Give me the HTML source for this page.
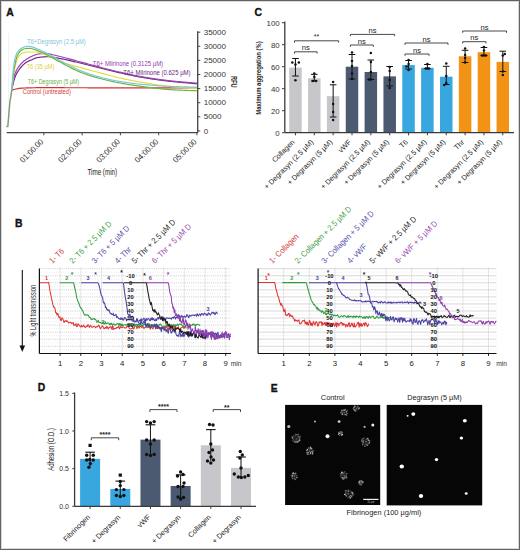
<!DOCTYPE html>
<html><head><meta charset="utf-8"><style>
html,body{margin:0;padding:0;background:#fff;}
svg{display:block;font-family:"Liberation Sans", sans-serif;}
</style></head><body>
<svg width="520" height="550" viewBox="0 0 520 550">
<rect x="0" y="0" width="520" height="550" fill="#fff"/>
<text x="6.20" y="15.60" font-size="10.4" fill="#111" font-weight="bold" stroke="#111" stroke-width="0.35">A</text>
<line x1="8.70" y1="33.00" x2="8.70" y2="126.00" stroke="#e6edf3" stroke-width="0.8"/>
<path d="M11.80,90.20 L12.65,89.89 L13.50,89.60 L14.75,89.27 L16.00,89.00 L17.00,88.81 L18.00,88.62 L19.00,88.44 L20.00,88.29 L21.00,88.17 L22.00,88.10 L23.00,88.06 L24.00,88.02 L25.00,87.98 L26.00,87.94 L27.00,87.91 L28.00,87.88 L29.00,87.85 L30.00,87.82 L31.00,87.80 L32.00,87.78 L33.00,87.76 L34.00,87.74 L35.00,87.73 L36.00,87.72 L37.00,87.71 L38.00,87.70 L39.00,87.70 L40.00,87.70 L41.00,87.70 L42.00,87.70 L43.00,87.70 L44.00,87.70 L45.00,87.70 L46.00,87.70 L47.00,87.70 L48.00,87.70 L49.00,87.70 L50.00,87.70 L51.00,87.71 L52.00,87.71 L53.00,87.71 L54.00,87.71 L55.00,87.71 L56.00,87.71 L57.00,87.71 L58.00,87.71 L59.00,87.72 L60.00,87.72 L61.00,87.72 L62.00,87.72 L63.00,87.72 L64.00,87.72 L65.00,87.73 L66.00,87.73 L67.00,87.73 L68.00,87.73 L69.00,87.73 L70.00,87.74 L71.00,87.74 L72.00,87.74 L73.00,87.74 L74.00,87.74 L75.00,87.75 L76.00,87.75 L77.00,87.75 L78.00,87.75 L79.00,87.76 L80.00,87.76 L81.00,87.76 L82.00,87.76 L83.00,87.76 L84.00,87.77 L85.00,87.77 L86.00,87.77 L87.00,87.77 L88.00,87.78 L89.00,87.78 L90.00,87.78 L91.00,87.78 L92.00,87.78 L93.00,87.79 L94.00,87.79 L95.00,87.79 L96.00,87.79 L97.00,87.79 L98.00,87.80 L99.00,87.80 L100.00,87.80 L101.00,87.80 L102.00,87.80 L103.00,87.81 L104.00,87.81 L105.00,87.81 L106.00,87.81 L107.00,87.81 L108.00,87.81 L109.00,87.82 L110.00,87.82 L111.00,87.82 L112.00,87.82 L113.00,87.82 L114.00,87.83 L115.00,87.83 L116.00,87.83 L117.00,87.83 L118.00,87.83 L119.00,87.84 L120.00,87.84 L121.00,87.84 L122.00,87.84 L123.00,87.84 L124.00,87.85 L125.00,87.85 L126.00,87.85 L127.00,87.85 L128.00,87.85 L129.00,87.86 L130.00,87.86 L131.00,87.86 L132.00,87.86 L133.00,87.86 L134.00,87.87 L135.00,87.87 L136.00,87.87 L137.00,87.87 L138.00,87.88 L139.00,87.88 L140.00,87.88 L141.00,87.88 L142.00,87.88 L143.00,87.89 L144.00,87.89 L145.00,87.89 L146.00,87.89 L147.00,87.89 L148.00,87.90 L149.00,87.90 L150.00,87.90 L151.00,87.90 L152.00,87.90 L153.00,87.91 L154.00,87.91 L155.00,87.91 L156.00,87.91 L157.00,87.92 L158.00,87.92 L159.00,87.92 L160.00,87.92 L161.00,87.92 L162.00,87.93 L163.00,87.93 L164.00,87.93 L165.00,87.93 L166.00,87.93 L167.00,87.94 L168.00,87.94 L169.00,87.94 L170.00,87.94 L171.00,87.95 L172.00,87.95 L173.00,87.95 L174.00,87.95 L175.00,87.95 L176.00,87.96 L177.00,87.96 L178.00,87.96 L179.00,87.96 L180.00,87.96 L181.00,87.97 L182.00,87.97 L183.00,87.97 L184.00,87.97 L185.00,87.97 L186.00,87.98 L187.00,87.98 L188.00,87.98 L189.00,87.98 L190.00,87.99 L191.00,87.99 L192.00,87.99 L193.00,87.99 L194.00,87.99 L195.00,88.00 L196.00,88.00 L197.00,88.00" fill="none" stroke="#cf3434" stroke-width="1.2" stroke-linejoin="round"/>
<path d="M11.80,90.20 L12.65,85.87 L13.50,82.00 L14.50,78.65 L15.50,76.00 L16.50,73.87 L17.50,72.07 L18.50,70.50 L19.67,68.89 L20.83,67.48 L22.00,66.20 L23.00,65.15 L24.00,64.14 L25.00,63.24 L26.00,62.50 L27.18,61.80 L28.36,61.20 L29.54,60.67 L30.72,60.18 L31.90,59.70 L32.92,59.27 L33.93,58.82 L34.95,58.39 L35.97,58.01 L36.98,57.70 L38.00,57.50 L39.00,57.37 L40.00,57.24 L41.00,57.12 L42.00,57.02 L43.00,56.93 L44.00,56.85 L45.00,56.79 L46.00,56.74 L47.00,56.71 L48.00,56.70 L49.00,56.72 L50.00,56.78 L51.00,56.88 L52.00,57.01 L53.00,57.16 L54.00,57.33 L55.00,57.52 L56.00,57.72 L57.00,57.92 L58.00,58.12 L59.00,58.32 L60.00,58.50 L61.00,58.68 L62.00,58.87 L63.00,59.07 L64.00,59.27 L65.00,59.48 L66.00,59.69 L67.00,59.91 L68.00,60.14 L69.00,60.37 L70.00,60.60 L71.00,60.84 L72.00,61.07 L73.00,61.31 L74.00,61.55 L75.00,61.80 L76.00,62.04 L77.00,62.28 L78.00,62.52 L79.00,62.76 L80.00,63.00 L81.00,63.24 L82.00,63.48 L83.00,63.72 L84.00,63.97 L85.00,64.22 L86.00,64.47 L87.00,64.72 L88.00,64.97 L89.00,65.23 L90.00,65.48 L91.00,65.73 L92.00,65.99 L93.00,66.24 L94.00,66.50 L95.00,66.75 L96.00,67.00 L97.00,67.26 L98.00,67.51 L99.00,67.75 L100.00,68.00 L101.00,68.25 L102.00,68.49 L103.00,68.74 L104.00,68.98 L105.00,69.23 L106.00,69.47 L107.00,69.72 L108.00,69.96 L109.00,70.21 L110.00,70.45 L111.00,70.69 L112.00,70.94 L113.00,71.18 L114.00,71.41 L115.00,71.65 L116.00,71.88 L117.00,72.12 L118.00,72.35 L119.00,72.57 L120.00,72.80 L121.00,73.02 L122.00,73.25 L123.00,73.47 L124.00,73.70 L125.00,73.92 L126.00,74.15 L127.00,74.37 L128.00,74.59 L129.00,74.81 L130.00,75.03 L131.00,75.24 L132.00,75.45 L133.00,75.66 L134.00,75.87 L135.00,76.07 L136.00,76.26 L137.00,76.46 L138.00,76.64 L139.00,76.82 L140.00,77.00 L141.00,77.17 L142.00,77.34 L143.00,77.51 L144.00,77.68 L145.00,77.84 L146.00,78.00 L147.00,78.16 L148.00,78.32 L149.00,78.48 L150.00,78.63 L151.00,78.79 L152.00,78.94 L153.00,79.09 L154.00,79.23 L155.00,79.38 L156.00,79.52 L157.00,79.66 L158.00,79.80 L159.00,79.94 L160.00,80.07 L161.00,80.20 L162.00,80.33 L163.00,80.46 L164.00,80.59 L165.00,80.71 L166.00,80.83 L167.00,80.95 L168.00,81.07 L169.00,81.19 L170.00,81.30 L171.00,81.41 L172.00,81.52 L173.00,81.62 L174.00,81.73 L175.00,81.83 L176.00,81.93 L177.00,82.02 L178.00,82.12 L179.00,82.21 L180.00,82.30 L181.00,82.39 L182.00,82.48 L183.00,82.57 L184.00,82.66 L185.00,82.75 L186.00,82.83 L187.00,82.92 L188.00,83.01 L189.00,83.09 L190.00,83.18 L191.00,83.26 L192.00,83.35 L193.00,83.44 L194.00,83.53 L195.00,83.62 L196.00,83.71 L197.00,83.80" fill="none" stroke="#6b2a86" stroke-width="1.2" stroke-linejoin="round"/>
<path d="M11.80,90.20 L12.50,85.04 L13.20,80.50 L13.95,77.02 L14.70,74.40 L16.10,71.02 L17.50,68.50 L18.95,66.37 L20.40,64.60 L21.60,63.26 L22.80,62.05 L24.00,61.00 L25.15,60.13 L26.30,59.35 L27.45,58.65 L28.60,58.00 L29.70,57.40 L30.80,56.80 L31.90,56.22 L33.00,55.68 L34.10,55.21 L35.20,54.81 L36.30,54.50 L37.44,54.24 L38.58,54.00 L39.72,53.79 L40.86,53.65 L42.00,53.60 L43.00,53.61 L44.00,53.64 L45.00,53.69 L46.00,53.75 L47.00,53.83 L48.00,53.90 L49.00,54.00 L50.00,54.13 L51.00,54.30 L52.00,54.50 L53.00,54.72 L54.00,54.96 L55.00,55.21 L56.00,55.47 L57.00,55.74 L58.00,56.00 L59.00,56.26 L60.00,56.50 L61.00,56.74 L62.00,56.98 L63.00,57.23 L64.00,57.49 L65.00,57.74 L66.00,58.00 L67.00,58.27 L68.00,58.53 L69.00,58.80 L70.00,59.07 L71.00,59.34 L72.00,59.62 L73.00,59.89 L74.00,60.17 L75.00,60.44 L76.00,60.72 L77.00,60.99 L78.00,61.26 L79.00,61.53 L80.00,61.80 L81.00,62.07 L82.00,62.34 L83.00,62.61 L84.00,62.88 L85.00,63.15 L86.00,63.43 L87.00,63.70 L88.00,63.97 L89.00,64.25 L90.00,64.52 L91.00,64.79 L92.00,65.07 L93.00,65.34 L94.00,65.61 L95.00,65.88 L96.00,66.14 L97.00,66.41 L98.00,66.68 L99.00,66.94 L100.00,67.20 L101.00,67.46 L102.00,67.72 L103.00,67.98 L104.00,68.24 L105.00,68.50 L106.00,68.76 L107.00,69.01 L108.00,69.27 L109.00,69.52 L110.00,69.78 L111.00,70.03 L112.00,70.28 L113.00,70.53 L114.00,70.78 L115.00,71.02 L116.00,71.26 L117.00,71.50 L118.00,71.74 L119.00,71.97 L120.00,72.20 L121.00,72.43 L122.00,72.66 L123.00,72.88 L124.00,73.11 L125.00,73.33 L126.00,73.56 L127.00,73.78 L128.00,74.00 L129.00,74.22 L130.00,74.43 L131.00,74.65 L132.00,74.86 L133.00,75.06 L134.00,75.27 L135.00,75.47 L136.00,75.66 L137.00,75.85 L138.00,76.04 L139.00,76.22 L140.00,76.40 L141.00,76.57 L142.00,76.75 L143.00,76.92 L144.00,77.09 L145.00,77.26 L146.00,77.42 L147.00,77.59 L148.00,77.75 L149.00,77.91 L150.00,78.07 L151.00,78.23 L152.00,78.39 L153.00,78.54 L154.00,78.69 L155.00,78.84 L156.00,78.99 L157.00,79.14 L158.00,79.28 L159.00,79.42 L160.00,79.56 L161.00,79.69 L162.00,79.83 L163.00,79.96 L164.00,80.09 L165.00,80.21 L166.00,80.34 L167.00,80.46 L168.00,80.57 L169.00,80.69 L170.00,80.80 L171.00,80.91 L172.00,81.01 L173.00,81.12 L174.00,81.22 L175.00,81.32 L176.00,81.41 L177.00,81.50 L178.00,81.60 L179.00,81.69 L180.00,81.77 L181.00,81.86 L182.00,81.95 L183.00,82.03 L184.00,82.11 L185.00,82.20 L186.00,82.28 L187.00,82.36 L188.00,82.44 L189.00,82.52 L190.00,82.61 L191.00,82.69 L192.00,82.77 L193.00,82.86 L194.00,82.94 L195.00,83.03 L196.00,83.11 L197.00,83.20" fill="none" stroke="#9a44b0" stroke-width="1.2" stroke-linejoin="round"/>
<path d="M11.80,90.20 L12.80,80.94 L13.80,73.00 L14.90,67.25 L16.00,63.00 L17.40,58.76 L18.80,56.00 L19.85,54.91 L20.90,54.06 L21.95,53.43 L23.00,53.00 L24.00,52.69 L25.00,52.42 L26.00,52.20 L27.00,52.05 L28.00,52.00 L29.00,52.00 L30.00,52.00 L31.00,52.00 L32.00,52.00 L33.00,52.00 L34.00,52.00 L35.00,52.00 L36.00,52.00 L37.00,52.05 L38.00,52.19 L39.00,52.41 L40.00,52.69 L41.00,53.04 L42.00,53.42 L43.00,53.84 L44.00,54.28 L45.00,54.72 L46.00,55.17 L47.00,55.60 L48.00,56.00 L49.00,56.40 L50.00,56.84 L51.00,57.30 L52.00,57.78 L53.00,58.28 L54.00,58.78 L55.00,59.27 L56.00,59.76 L57.00,60.23 L58.00,60.69 L59.00,61.11 L60.00,61.50 L61.00,61.86 L62.00,62.22 L63.00,62.56 L64.00,62.89 L65.00,63.21 L66.00,63.53 L67.00,63.83 L68.00,64.13 L69.00,64.43 L70.00,64.72 L71.00,65.00 L72.00,65.29 L73.00,65.56 L74.00,65.84 L75.00,66.12 L76.00,66.39 L77.00,66.67 L78.00,66.94 L79.00,67.22 L80.00,67.50 L81.00,67.78 L82.00,68.06 L83.00,68.33 L84.00,68.60 L85.00,68.87 L86.00,69.14 L87.00,69.41 L88.00,69.67 L89.00,69.94 L90.00,70.20 L91.00,70.46 L92.00,70.72 L93.00,70.98 L94.00,71.24 L95.00,71.50 L96.00,71.76 L97.00,72.02 L98.00,72.28 L99.00,72.54 L100.00,72.80 L101.00,73.06 L102.00,73.33 L103.00,73.60 L104.00,73.87 L105.00,74.14 L106.00,74.41 L107.00,74.68 L108.00,74.95 L109.00,75.22 L110.00,75.49 L111.00,75.76 L112.00,76.02 L113.00,76.28 L114.00,76.54 L115.00,76.80 L116.00,77.05 L117.00,77.29 L118.00,77.54 L119.00,77.77 L120.00,78.00 L121.00,78.22 L122.00,78.45 L123.00,78.67 L124.00,78.88 L125.00,79.10 L126.00,79.31 L127.00,79.52 L128.00,79.73 L129.00,79.93 L130.00,80.13 L131.00,80.33 L132.00,80.53 L133.00,80.72 L134.00,80.91 L135.00,81.10 L136.00,81.29 L137.00,81.47 L138.00,81.65 L139.00,81.83 L140.00,82.00 L141.00,82.17 L142.00,82.35 L143.00,82.52 L144.00,82.69 L145.00,82.86 L146.00,83.03 L147.00,83.21 L148.00,83.37 L149.00,83.54 L150.00,83.71 L151.00,83.87 L152.00,84.04 L153.00,84.20 L154.00,84.36 L155.00,84.52 L156.00,84.67 L157.00,84.82 L158.00,84.97 L159.00,85.12 L160.00,85.27 L161.00,85.41 L162.00,85.54 L163.00,85.68 L164.00,85.81 L165.00,85.93 L166.00,86.06 L167.00,86.17 L168.00,86.29 L169.00,86.40 L170.00,86.50 L171.00,86.60 L172.00,86.70 L173.00,86.79 L174.00,86.88 L175.00,86.97 L176.00,87.05 L177.00,87.14 L178.00,87.22 L179.00,87.30 L180.00,87.37 L181.00,87.45 L182.00,87.52 L183.00,87.60 L184.00,87.67 L185.00,87.74 L186.00,87.81 L187.00,87.88 L188.00,87.95 L189.00,88.02 L190.00,88.09 L191.00,88.16 L192.00,88.23 L193.00,88.30 L194.00,88.37 L195.00,88.45 L196.00,88.52 L197.00,88.60" fill="none" stroke="#e6dd3c" stroke-width="1.2" stroke-linejoin="round"/>
<path d="M11.80,90.20 L12.40,83.20 L13.00,77.00 L14.00,69.61 L15.00,64.00 L16.00,59.59 L17.00,56.40 L18.00,54.30 L19.00,52.68 L20.00,51.50 L21.23,50.39 L22.47,49.51 L23.70,49.00 L24.72,48.77 L25.74,48.58 L26.76,48.43 L27.78,48.33 L28.80,48.30 L29.85,48.37 L30.90,48.53 L31.95,48.76 L33.00,49.00 L34.12,49.30 L35.25,49.66 L36.38,50.08 L37.50,50.50 L38.50,50.88 L39.50,51.29 L40.50,51.71 L41.50,52.14 L42.50,52.59 L43.50,53.05 L44.50,53.52 L45.50,54.00 L46.54,54.51 L47.57,55.04 L48.61,55.60 L49.64,56.16 L50.68,56.74 L51.71,57.33 L52.75,57.92 L53.79,58.52 L54.82,59.12 L55.86,59.71 L56.89,60.30 L57.93,60.88 L58.96,61.45 L60.00,62.00 L61.00,62.53 L62.00,63.06 L63.00,63.60 L64.00,64.13 L65.00,64.67 L66.00,65.21 L67.00,65.75 L68.00,66.28 L69.00,66.81 L70.00,67.33 L71.00,67.85 L72.00,68.36 L73.00,68.86 L74.00,69.34 L75.00,69.82 L76.00,70.29 L77.00,70.74 L78.00,71.18 L79.00,71.60 L80.00,72.00 L81.00,72.39 L82.00,72.77 L83.00,73.15 L84.00,73.51 L85.00,73.87 L86.00,74.23 L87.00,74.57 L88.00,74.91 L89.00,75.24 L90.00,75.57 L91.00,75.89 L92.00,76.20 L93.00,76.51 L94.00,76.81 L95.00,77.11 L96.00,77.40 L97.00,77.68 L98.00,77.96 L99.00,78.23 L100.00,78.50 L101.00,78.76 L102.00,79.02 L103.00,79.28 L104.00,79.53 L105.00,79.78 L106.00,80.02 L107.00,80.26 L108.00,80.49 L109.00,80.72 L110.00,80.95 L111.00,81.17 L112.00,81.39 L113.00,81.60 L114.00,81.81 L115.00,82.02 L116.00,82.22 L117.00,82.42 L118.00,82.62 L119.00,82.81 L120.00,83.00 L121.00,83.19 L122.00,83.37 L123.00,83.55 L124.00,83.73 L125.00,83.90 L126.00,84.07 L127.00,84.24 L128.00,84.41 L129.00,84.57 L130.00,84.73 L131.00,84.89 L132.00,85.05 L133.00,85.20 L134.00,85.35 L135.00,85.50 L136.00,85.64 L137.00,85.79 L138.00,85.93 L139.00,86.06 L140.00,86.20 L141.00,86.33 L142.00,86.47 L143.00,86.60 L144.00,86.74 L145.00,86.87 L146.00,87.01 L147.00,87.14 L148.00,87.27 L149.00,87.41 L150.00,87.54 L151.00,87.67 L152.00,87.79 L153.00,87.92 L154.00,88.04 L155.00,88.17 L156.00,88.29 L157.00,88.40 L158.00,88.52 L159.00,88.63 L160.00,88.74 L161.00,88.84 L162.00,88.94 L163.00,89.04 L164.00,89.13 L165.00,89.22 L166.00,89.31 L167.00,89.39 L168.00,89.46 L169.00,89.53 L170.00,89.60 L171.00,89.66 L172.00,89.72 L173.00,89.78 L174.00,89.83 L175.00,89.89 L176.00,89.94 L177.00,89.98 L178.00,90.03 L179.00,90.08 L180.00,90.12 L181.00,90.16 L182.00,90.20 L183.00,90.24 L184.00,90.28 L185.00,90.32 L186.00,90.36 L187.00,90.40 L188.00,90.44 L189.00,90.48 L190.00,90.51 L191.00,90.55 L192.00,90.59 L193.00,90.63 L194.00,90.67 L195.00,90.71 L196.00,90.76 L197.00,90.80" fill="none" stroke="#68b846" stroke-width="1.2" stroke-linejoin="round"/>
<path d="M11.80,90.20 L12.20,83.86 L12.60,78.00 L13.05,72.44 L13.50,68.00 L14.50,60.96 L15.50,56.40 L16.75,53.44 L18.00,51.50 L19.20,50.06 L20.40,49.00 L21.60,48.17 L22.80,47.49 L24.00,47.00 L25.17,46.62 L26.33,46.32 L27.50,46.20 L28.62,46.25 L29.75,46.39 L30.88,46.58 L32.00,46.80 L33.10,47.09 L34.20,47.51 L35.30,48.00 L36.40,48.51 L37.50,49.00 L38.50,49.42 L39.50,49.85 L40.50,50.29 L41.50,50.73 L42.50,51.19 L43.50,51.65 L44.50,52.12 L45.50,52.60 L46.54,53.12 L47.57,53.65 L48.61,54.20 L49.64,54.76 L50.68,55.33 L51.71,55.90 L52.75,56.49 L53.79,57.07 L54.82,57.66 L55.86,58.24 L56.89,58.82 L57.93,59.39 L58.96,59.95 L60.00,60.50 L61.00,61.03 L62.00,61.55 L63.00,62.09 L64.00,62.62 L65.00,63.16 L66.00,63.69 L67.00,64.22 L68.00,64.75 L69.00,65.28 L70.00,65.80 L71.00,66.32 L72.00,66.83 L73.00,67.33 L74.00,67.82 L75.00,68.30 L76.00,68.77 L77.00,69.22 L78.00,69.66 L79.00,70.09 L80.00,70.50 L81.00,70.90 L82.00,71.29 L83.00,71.68 L84.00,72.06 L85.00,72.43 L86.00,72.80 L87.00,73.16 L88.00,73.51 L89.00,73.86 L90.00,74.20 L91.00,74.53 L92.00,74.86 L93.00,75.18 L94.00,75.49 L95.00,75.79 L96.00,76.09 L97.00,76.38 L98.00,76.66 L99.00,76.93 L100.00,77.20 L101.00,77.46 L102.00,77.71 L103.00,77.97 L104.00,78.21 L105.00,78.45 L106.00,78.69 L107.00,78.92 L108.00,79.15 L109.00,79.37 L110.00,79.59 L111.00,79.80 L112.00,80.01 L113.00,80.22 L114.00,80.41 L115.00,80.61 L116.00,80.80 L117.00,80.98 L118.00,81.16 L119.00,81.33 L120.00,81.50 L121.00,81.66 L122.00,81.83 L123.00,81.99 L124.00,82.14 L125.00,82.30 L126.00,82.45 L127.00,82.60 L128.00,82.74 L129.00,82.88 L130.00,83.02 L131.00,83.16 L132.00,83.29 L133.00,83.42 L134.00,83.54 L135.00,83.66 L136.00,83.78 L137.00,83.89 L138.00,84.00 L139.00,84.10 L140.00,84.20 L141.00,84.30 L142.00,84.39 L143.00,84.49 L144.00,84.58 L145.00,84.67 L146.00,84.76 L147.00,84.85 L148.00,84.94 L149.00,85.02 L150.00,85.11 L151.00,85.19 L152.00,85.27 L153.00,85.35 L154.00,85.43 L155.00,85.51 L156.00,85.58 L157.00,85.65 L158.00,85.72 L159.00,85.79 L160.00,85.86 L161.00,85.92 L162.00,85.99 L163.00,86.05 L164.00,86.10 L165.00,86.16 L166.00,86.21 L167.00,86.26 L168.00,86.31 L169.00,86.36 L170.00,86.40 L171.00,86.44 L172.00,86.48 L173.00,86.52 L174.00,86.55 L175.00,86.59 L176.00,86.62 L177.00,86.65 L178.00,86.69 L179.00,86.72 L180.00,86.74 L181.00,86.77 L182.00,86.80 L183.00,86.83 L184.00,86.85 L185.00,86.88 L186.00,86.91 L187.00,86.93 L188.00,86.96 L189.00,86.98 L190.00,87.01 L191.00,87.03 L192.00,87.06 L193.00,87.09 L194.00,87.11 L195.00,87.14 L196.00,87.17 L197.00,87.20" fill="none" stroke="#7dc7db" stroke-width="1.2" stroke-linejoin="round"/>
<path d="M6.3,126.6 L7.8,126.6 L9.8,102.7 L11.8,90.2" fill="none" stroke="#7f9f74" stroke-width="1.5" stroke-linejoin="round"/>
<line x1="6.70" y1="132.70" x2="197.70" y2="132.70" stroke="#444" stroke-width="1.3"/>
<line x1="197.70" y1="31.20" x2="197.70" y2="132.70" stroke="#444" stroke-width="1.3"/>
<line x1="43.87" y1="132.70" x2="43.87" y2="135.30" stroke="#444" stroke-width="1"/>
<line x1="82.14" y1="132.70" x2="82.14" y2="135.30" stroke="#444" stroke-width="1"/>
<line x1="120.41" y1="132.70" x2="120.41" y2="135.30" stroke="#444" stroke-width="1"/>
<line x1="158.68" y1="132.70" x2="158.68" y2="135.30" stroke="#444" stroke-width="1"/>
<line x1="196.95" y1="132.70" x2="196.95" y2="135.30" stroke="#444" stroke-width="1"/>
<text x="44.07" y="142.40" font-size="8.3" fill="#2a2a2a" text-anchor="end" transform="rotate(-45 44.07 142.40)" textLength="29.50" lengthAdjust="spacingAndGlyphs">01:00.00</text>
<text x="82.34" y="142.40" font-size="8.3" fill="#2a2a2a" text-anchor="end" transform="rotate(-45 82.34 142.40)" textLength="29.50" lengthAdjust="spacingAndGlyphs">02:00.00</text>
<text x="120.61" y="142.40" font-size="8.3" fill="#2a2a2a" text-anchor="end" transform="rotate(-45 120.61 142.40)" textLength="29.50" lengthAdjust="spacingAndGlyphs">03:00.00</text>
<text x="158.88" y="142.40" font-size="8.3" fill="#2a2a2a" text-anchor="end" transform="rotate(-45 158.88 142.40)" textLength="29.50" lengthAdjust="spacingAndGlyphs">04:00.00</text>
<text x="197.15" y="142.40" font-size="8.3" fill="#2a2a2a" text-anchor="end" transform="rotate(-45 197.15 142.40)" textLength="29.50" lengthAdjust="spacingAndGlyphs">05:00.00</text>
<line x1="197.70" y1="130.90" x2="200.30" y2="130.90" stroke="#444" stroke-width="1"/>
<text x="203.70" y="133.50" font-size="7.2" fill="#333" textLength="4.46" lengthAdjust="spacingAndGlyphs">0</text>
<line x1="197.70" y1="116.80" x2="200.30" y2="116.80" stroke="#444" stroke-width="1"/>
<text x="203.70" y="119.40" font-size="7.2" fill="#333" textLength="17.84" lengthAdjust="spacingAndGlyphs">5000</text>
<line x1="197.70" y1="102.70" x2="200.30" y2="102.70" stroke="#444" stroke-width="1"/>
<text x="203.70" y="105.30" font-size="7.2" fill="#333" textLength="22.30" lengthAdjust="spacingAndGlyphs">10000</text>
<line x1="197.70" y1="88.60" x2="200.30" y2="88.60" stroke="#444" stroke-width="1"/>
<text x="203.70" y="91.20" font-size="7.2" fill="#333" textLength="22.30" lengthAdjust="spacingAndGlyphs">15000</text>
<line x1="197.70" y1="74.50" x2="200.30" y2="74.50" stroke="#444" stroke-width="1"/>
<text x="203.70" y="77.10" font-size="7.2" fill="#333" textLength="22.30" lengthAdjust="spacingAndGlyphs">20000</text>
<line x1="197.70" y1="60.40" x2="200.30" y2="60.40" stroke="#444" stroke-width="1"/>
<text x="203.70" y="63.00" font-size="7.2" fill="#333" textLength="22.30" lengthAdjust="spacingAndGlyphs">25000</text>
<line x1="197.70" y1="46.30" x2="200.30" y2="46.30" stroke="#444" stroke-width="1"/>
<text x="203.70" y="48.90" font-size="7.2" fill="#333" textLength="22.30" lengthAdjust="spacingAndGlyphs">30000</text>
<line x1="197.70" y1="32.20" x2="200.30" y2="32.20" stroke="#444" stroke-width="1"/>
<text x="203.70" y="34.80" font-size="7.2" fill="#333" textLength="22.30" lengthAdjust="spacingAndGlyphs">35000</text>
<text x="230.90" y="75.90" font-size="9.2" fill="#333" font-weight="bold" transform="rotate(90 230.90 75.90)" textLength="11.70" lengthAdjust="spacingAndGlyphs">RFU</text>
<text x="87.40" y="175.00" font-size="9" fill="#1a1a1a" textLength="29.80" lengthAdjust="spacingAndGlyphs">Time (min)</text>
<text x="26.90" y="43.60" font-size="6.7" fill="#86c4d8" textLength="58.90" lengthAdjust="spacingAndGlyphs">T6+Degrasyn (2.5 µM)</text>
<text x="26.70" y="69.40" font-size="6.7" fill="#dcd040" textLength="27.60" lengthAdjust="spacingAndGlyphs">T6 (35 µM)</text>
<text x="27.70" y="83.80" font-size="6.7" fill="#6aaf4c" textLength="51.50" lengthAdjust="spacingAndGlyphs">T6+ Degrasyn (5 µM)</text>
<text x="22.80" y="94.20" font-size="6.7" fill="#cf3a3a" textLength="48.00" lengthAdjust="spacingAndGlyphs">Control (untreated)</text>
<text x="92.80" y="65.90" font-size="6.7" fill="#9440aa" textLength="70.30" lengthAdjust="spacingAndGlyphs">T6+ Milrinone (0.3125 µM)</text>
<text x="123.30" y="75.30" font-size="6.7" fill="#66287f" textLength="67.30" lengthAdjust="spacingAndGlyphs">T6+ Milrinone (0.625 µM)</text>
<text x="254.60" y="16.20" font-size="10.4" fill="#111" font-weight="bold" stroke="#111" stroke-width="0.35">C</text>
<rect x="289.20" y="67.58" width="12.50" height="65.12" fill="#c7c7cb"/>
<line x1="295.45" y1="58.50" x2="295.45" y2="76.00" stroke="#111" stroke-width="1"/>
<line x1="292.15" y1="58.50" x2="298.75" y2="58.50" stroke="#111" stroke-width="1"/>
<line x1="292.15" y1="76.00" x2="298.75" y2="76.00" stroke="#111" stroke-width="1"/>
<circle cx="292.35" cy="62.40" r="1.25" fill="#111"/>
<circle cx="298.85" cy="62.40" r="1.25" fill="#111"/>
<circle cx="295.45" cy="64.60" r="1.25" fill="#111"/>
<circle cx="295.45" cy="80.20" r="1.25" fill="#111"/>
<line x1="295.45" y1="132.70" x2="295.45" y2="135.30" stroke="#3a3a3a" stroke-width="1"/>
<text x="295.15" y="142.60" font-size="7.25" fill="#222" text-anchor="end" transform="rotate(-45 295.15 142.60)">Collagen</text>
<rect x="308.05" y="78.25" width="12.50" height="54.45" fill="#c7c7cb"/>
<line x1="314.30" y1="74.30" x2="314.30" y2="81.00" stroke="#111" stroke-width="1"/>
<line x1="311.00" y1="74.30" x2="317.60" y2="74.30" stroke="#111" stroke-width="1"/>
<line x1="311.00" y1="81.00" x2="317.60" y2="81.00" stroke="#111" stroke-width="1"/>
<circle cx="314.30" cy="73.50" r="1.25" fill="#111"/>
<circle cx="314.30" cy="77.00" r="1.25" fill="#111"/>
<circle cx="312.90" cy="81.00" r="1.25" fill="#111"/>
<circle cx="315.90" cy="81.00" r="1.25" fill="#111"/>
<line x1="314.30" y1="132.70" x2="314.30" y2="135.30" stroke="#3a3a3a" stroke-width="1"/>
<text x="314.00" y="142.60" font-size="7.25" fill="#222" text-anchor="end" transform="rotate(-45 314.00 142.60)">+ Degrasyn (2.5 µM)</text>
<rect x="326.90" y="96.18" width="12.50" height="36.52" fill="#c7c7cb"/>
<line x1="333.15" y1="84.80" x2="333.15" y2="117.00" stroke="#111" stroke-width="1"/>
<line x1="329.85" y1="84.80" x2="336.45" y2="84.80" stroke="#111" stroke-width="1"/>
<line x1="329.85" y1="117.00" x2="336.45" y2="117.00" stroke="#111" stroke-width="1"/>
<circle cx="333.15" cy="82.00" r="1.25" fill="#111"/>
<circle cx="333.15" cy="104.00" r="1.25" fill="#111"/>
<circle cx="333.15" cy="112.00" r="1.25" fill="#111"/>
<circle cx="333.15" cy="120.00" r="1.25" fill="#111"/>
<line x1="333.15" y1="132.70" x2="333.15" y2="135.30" stroke="#3a3a3a" stroke-width="1"/>
<text x="332.85" y="142.60" font-size="7.25" fill="#222" text-anchor="end" transform="rotate(-45 332.85 142.60)">+ Degrasyn (5 µM)</text>
<rect x="345.75" y="66.70" width="12.50" height="66.00" fill="#4b5a70"/>
<line x1="352.00" y1="54.50" x2="352.00" y2="79.00" stroke="#111" stroke-width="1"/>
<line x1="348.70" y1="54.50" x2="355.30" y2="54.50" stroke="#111" stroke-width="1"/>
<line x1="348.70" y1="79.00" x2="355.30" y2="79.00" stroke="#111" stroke-width="1"/>
<circle cx="352.00" cy="52.50" r="1.25" fill="#111"/>
<circle cx="352.00" cy="61.00" r="1.25" fill="#111"/>
<circle cx="352.00" cy="66.00" r="1.25" fill="#111"/>
<circle cx="352.00" cy="73.50" r="1.25" fill="#111"/>
<circle cx="352.00" cy="79.00" r="1.25" fill="#111"/>
<line x1="352.00" y1="132.70" x2="352.00" y2="135.30" stroke="#3a3a3a" stroke-width="1"/>
<text x="351.70" y="142.60" font-size="7.25" fill="#222" text-anchor="end" transform="rotate(-45 351.70 142.60)">vWF</text>
<rect x="364.60" y="71.98" width="12.50" height="60.72" fill="#4b5a70"/>
<line x1="370.85" y1="60.00" x2="370.85" y2="79.50" stroke="#111" stroke-width="1"/>
<line x1="367.55" y1="60.00" x2="374.15" y2="60.00" stroke="#111" stroke-width="1"/>
<line x1="367.55" y1="79.50" x2="374.15" y2="79.50" stroke="#111" stroke-width="1"/>
<circle cx="370.85" cy="53.00" r="1.25" fill="#111"/>
<circle cx="370.85" cy="62.00" r="1.25" fill="#111"/>
<circle cx="370.85" cy="72.00" r="1.25" fill="#111"/>
<circle cx="370.85" cy="79.50" r="1.25" fill="#111"/>
<circle cx="368.85" cy="79.50" r="1.25" fill="#111"/>
<line x1="370.85" y1="132.70" x2="370.85" y2="135.30" stroke="#3a3a3a" stroke-width="1"/>
<text x="370.55" y="142.60" font-size="7.25" fill="#222" text-anchor="end" transform="rotate(-45 370.55 142.60)">+ Degrasyn (2.5 µM)</text>
<rect x="383.45" y="76.38" width="12.50" height="56.32" fill="#4b5a70"/>
<line x1="389.70" y1="66.50" x2="389.70" y2="86.00" stroke="#111" stroke-width="1"/>
<line x1="386.40" y1="66.50" x2="393.00" y2="66.50" stroke="#111" stroke-width="1"/>
<line x1="386.40" y1="86.00" x2="393.00" y2="86.00" stroke="#111" stroke-width="1"/>
<circle cx="389.70" cy="67.00" r="1.25" fill="#111"/>
<circle cx="389.70" cy="71.00" r="1.25" fill="#111"/>
<circle cx="389.70" cy="80.00" r="1.25" fill="#111"/>
<circle cx="389.70" cy="88.00" r="1.25" fill="#111"/>
<line x1="389.70" y1="132.70" x2="389.70" y2="135.30" stroke="#3a3a3a" stroke-width="1"/>
<text x="389.40" y="142.60" font-size="7.25" fill="#222" text-anchor="end" transform="rotate(-45 389.40 142.60)">+ Degrasyn (5 µM)</text>
<rect x="402.30" y="65.05" width="12.50" height="67.65" fill="#38a7df"/>
<line x1="408.55" y1="60.50" x2="408.55" y2="69.00" stroke="#111" stroke-width="1"/>
<line x1="405.25" y1="60.50" x2="411.85" y2="60.50" stroke="#111" stroke-width="1"/>
<line x1="405.25" y1="69.00" x2="411.85" y2="69.00" stroke="#111" stroke-width="1"/>
<circle cx="408.55" cy="60.00" r="1.25" fill="#111"/>
<circle cx="408.55" cy="64.00" r="1.25" fill="#111"/>
<circle cx="406.55" cy="66.50" r="1.25" fill="#111"/>
<circle cx="408.55" cy="70.00" r="1.25" fill="#111"/>
<line x1="408.55" y1="132.70" x2="408.55" y2="135.30" stroke="#3a3a3a" stroke-width="1"/>
<text x="408.25" y="142.60" font-size="7.25" fill="#222" text-anchor="end" transform="rotate(-45 408.25 142.60)">T6</text>
<rect x="421.15" y="67.80" width="12.50" height="64.90" fill="#38a7df"/>
<line x1="427.40" y1="64.50" x2="427.40" y2="68.50" stroke="#111" stroke-width="1"/>
<line x1="424.10" y1="64.50" x2="430.70" y2="64.50" stroke="#111" stroke-width="1"/>
<line x1="424.10" y1="68.50" x2="430.70" y2="68.50" stroke="#111" stroke-width="1"/>
<circle cx="427.40" cy="64.00" r="1.25" fill="#111"/>
<circle cx="427.40" cy="68.50" r="1.25" fill="#111"/>
<circle cx="425.90" cy="68.50" r="1.25" fill="#111"/>
<circle cx="428.90" cy="68.50" r="1.25" fill="#111"/>
<line x1="427.40" y1="132.70" x2="427.40" y2="135.30" stroke="#3a3a3a" stroke-width="1"/>
<text x="427.10" y="142.60" font-size="7.25" fill="#222" text-anchor="end" transform="rotate(-45 427.10 142.60)">+ Degrasyn (2.5 µM)</text>
<rect x="440.00" y="76.71" width="12.50" height="55.99" fill="#38a7df"/>
<line x1="446.25" y1="66.30" x2="446.25" y2="84.50" stroke="#111" stroke-width="1"/>
<line x1="442.95" y1="66.30" x2="449.55" y2="66.30" stroke="#111" stroke-width="1"/>
<line x1="442.95" y1="84.50" x2="449.55" y2="84.50" stroke="#111" stroke-width="1"/>
<circle cx="446.25" cy="63.50" r="1.25" fill="#111"/>
<circle cx="446.25" cy="76.00" r="1.25" fill="#111"/>
<circle cx="446.25" cy="83.00" r="1.25" fill="#111"/>
<circle cx="444.25" cy="85.00" r="1.25" fill="#111"/>
<line x1="446.25" y1="132.70" x2="446.25" y2="135.30" stroke="#3a3a3a" stroke-width="1"/>
<text x="445.95" y="142.60" font-size="7.25" fill="#222" text-anchor="end" transform="rotate(-45 445.95 142.60)">+ Degrasyn (5 µM)</text>
<rect x="458.85" y="56.25" width="12.50" height="76.45" fill="#f39316"/>
<line x1="465.10" y1="50.30" x2="465.10" y2="62.50" stroke="#111" stroke-width="1"/>
<line x1="461.80" y1="50.30" x2="468.40" y2="50.30" stroke="#111" stroke-width="1"/>
<line x1="461.80" y1="62.50" x2="468.40" y2="62.50" stroke="#111" stroke-width="1"/>
<circle cx="465.10" cy="48.50" r="1.25" fill="#111"/>
<circle cx="465.10" cy="55.00" r="1.25" fill="#111"/>
<circle cx="465.10" cy="58.00" r="1.25" fill="#111"/>
<circle cx="465.10" cy="62.50" r="1.25" fill="#111"/>
<line x1="465.10" y1="132.70" x2="465.10" y2="135.30" stroke="#3a3a3a" stroke-width="1"/>
<text x="464.80" y="142.60" font-size="7.25" fill="#222" text-anchor="end" transform="rotate(-45 464.80 142.60)">Thr</text>
<rect x="477.70" y="52.18" width="12.50" height="80.52" fill="#f39316"/>
<line x1="483.95" y1="47.50" x2="483.95" y2="55.50" stroke="#111" stroke-width="1"/>
<line x1="480.65" y1="47.50" x2="487.25" y2="47.50" stroke="#111" stroke-width="1"/>
<line x1="480.65" y1="55.50" x2="487.25" y2="55.50" stroke="#111" stroke-width="1"/>
<circle cx="483.95" cy="47.00" r="1.25" fill="#111"/>
<circle cx="483.95" cy="50.50" r="1.25" fill="#111"/>
<circle cx="483.95" cy="55.50" r="1.25" fill="#111"/>
<circle cx="481.95" cy="55.50" r="1.25" fill="#111"/>
<circle cx="485.95" cy="55.50" r="1.25" fill="#111"/>
<line x1="483.95" y1="132.70" x2="483.95" y2="135.30" stroke="#3a3a3a" stroke-width="1"/>
<text x="483.65" y="142.60" font-size="7.25" fill="#222" text-anchor="end" transform="rotate(-45 483.65 142.60)">+ Degrasyn (2.5 µM)</text>
<rect x="496.55" y="61.86" width="12.50" height="70.84" fill="#f39316"/>
<line x1="502.80" y1="51.20" x2="502.80" y2="71.50" stroke="#111" stroke-width="1"/>
<line x1="499.50" y1="51.20" x2="506.10" y2="51.20" stroke="#111" stroke-width="1"/>
<line x1="499.50" y1="71.50" x2="506.10" y2="71.50" stroke="#111" stroke-width="1"/>
<circle cx="504.80" cy="54.00" r="1.25" fill="#111"/>
<circle cx="502.80" cy="55.50" r="1.25" fill="#111"/>
<circle cx="502.80" cy="71.50" r="1.25" fill="#111"/>
<circle cx="502.80" cy="75.00" r="1.25" fill="#111"/>
<line x1="502.80" y1="132.70" x2="502.80" y2="135.30" stroke="#3a3a3a" stroke-width="1"/>
<text x="502.50" y="142.60" font-size="7.25" fill="#222" text-anchor="end" transform="rotate(-45 502.50 142.60)">+ Degrasyn (5 µM)</text>
<line x1="284.80" y1="21.50" x2="284.80" y2="132.70" stroke="#3a3a3a" stroke-width="1.3"/>
<line x1="284.80" y1="132.70" x2="514.00" y2="132.70" stroke="#3a3a3a" stroke-width="1.3"/>
<line x1="282.00" y1="132.70" x2="284.80" y2="132.70" stroke="#3a3a3a" stroke-width="1"/>
<text x="279.60" y="135.50" font-size="7.8" fill="#333" text-anchor="end" textLength="4.35" lengthAdjust="spacingAndGlyphs">0</text>
<line x1="282.00" y1="110.70" x2="284.80" y2="110.70" stroke="#3a3a3a" stroke-width="1"/>
<text x="279.60" y="113.50" font-size="7.8" fill="#333" text-anchor="end" textLength="8.70" lengthAdjust="spacingAndGlyphs">20</text>
<line x1="282.00" y1="88.70" x2="284.80" y2="88.70" stroke="#3a3a3a" stroke-width="1"/>
<text x="279.60" y="91.50" font-size="7.8" fill="#333" text-anchor="end" textLength="8.70" lengthAdjust="spacingAndGlyphs">40</text>
<line x1="282.00" y1="66.70" x2="284.80" y2="66.70" stroke="#3a3a3a" stroke-width="1"/>
<text x="279.60" y="69.50" font-size="7.8" fill="#333" text-anchor="end" textLength="8.70" lengthAdjust="spacingAndGlyphs">60</text>
<line x1="282.00" y1="44.70" x2="284.80" y2="44.70" stroke="#3a3a3a" stroke-width="1"/>
<text x="279.60" y="47.50" font-size="7.8" fill="#333" text-anchor="end" textLength="8.70" lengthAdjust="spacingAndGlyphs">80</text>
<line x1="282.00" y1="22.70" x2="284.80" y2="22.70" stroke="#3a3a3a" stroke-width="1"/>
<text x="279.60" y="25.50" font-size="7.8" fill="#333" text-anchor="end" textLength="13.05" lengthAdjust="spacingAndGlyphs">100</text>
<text x="261.00" y="114.80" font-size="7.6" fill="#222" font-weight="bold" transform="rotate(-90 261.00 114.80)" textLength="73.60" lengthAdjust="spacingAndGlyphs">Maximum aggregation (%)</text>
<path d="M294.50,42.60 V40.80 H338.60 V42.60" fill="none" stroke="#333" stroke-width="0.9"/>
<text x="316.55" y="39.30" font-size="7" fill="#222" text-anchor="middle">**</text>
<path d="M294.50,53.60 V51.80 H317.10 V53.60" fill="none" stroke="#333" stroke-width="0.9"/>
<text x="305.80" y="50.20" font-size="7.6" fill="#222" text-anchor="middle">ns</text>
<path d="M350.40,36.20 V34.40 H394.60 V36.20" fill="none" stroke="#333" stroke-width="0.9"/>
<text x="372.50" y="32.90" font-size="7.6" fill="#222" text-anchor="middle">ns</text>
<path d="M350.40,46.80 V45.00 H373.30 V46.80" fill="none" stroke="#333" stroke-width="0.9"/>
<text x="361.85" y="43.90" font-size="7.6" fill="#222" text-anchor="middle">ns</text>
<path d="M405.00,44.80 V43.00 H448.00 V44.80" fill="none" stroke="#333" stroke-width="0.9"/>
<text x="426.50" y="41.70" font-size="7.6" fill="#222" text-anchor="middle">ns</text>
<path d="M405.00,55.80 V54.00 H429.00 V55.80" fill="none" stroke="#333" stroke-width="0.9"/>
<text x="417.00" y="52.70" font-size="7.6" fill="#222" text-anchor="middle">ns</text>
<path d="M462.70,32.80 V31.00 H506.50 V32.80" fill="none" stroke="#333" stroke-width="0.9"/>
<text x="484.60" y="29.70" font-size="7.6" fill="#222" text-anchor="middle">ns</text>
<path d="M462.70,43.50 V41.70 H486.00 V43.50" fill="none" stroke="#333" stroke-width="0.9"/>
<text x="474.35" y="40.40" font-size="7.6" fill="#222" text-anchor="middle">ns</text>
<text x="15.00" y="227.00" font-size="10.4" fill="#111" font-weight="bold" stroke="#111" stroke-width="0.35">B</text>
<line x1="39.40" y1="268.70" x2="231.00" y2="268.70" stroke="#bdbdbd" stroke-width="0.8" stroke-dasharray="1,1.2"/>
<line x1="39.40" y1="275.75" x2="231.00" y2="275.75" stroke="#bdbdbd" stroke-width="0.8" stroke-dasharray="1,1.2"/>
<line x1="39.40" y1="282.80" x2="231.00" y2="282.80" stroke="#bdbdbd" stroke-width="0.8" stroke-dasharray="1,1.2"/>
<line x1="39.40" y1="289.85" x2="231.00" y2="289.85" stroke="#bdbdbd" stroke-width="0.8" stroke-dasharray="1,1.2"/>
<line x1="39.40" y1="296.90" x2="231.00" y2="296.90" stroke="#bdbdbd" stroke-width="0.8" stroke-dasharray="1,1.2"/>
<line x1="39.40" y1="303.95" x2="231.00" y2="303.95" stroke="#bdbdbd" stroke-width="0.8" stroke-dasharray="1,1.2"/>
<line x1="39.40" y1="311.00" x2="231.00" y2="311.00" stroke="#bdbdbd" stroke-width="0.8" stroke-dasharray="1,1.2"/>
<line x1="39.40" y1="318.05" x2="231.00" y2="318.05" stroke="#bdbdbd" stroke-width="0.8" stroke-dasharray="1,1.2"/>
<line x1="39.40" y1="325.10" x2="231.00" y2="325.10" stroke="#bdbdbd" stroke-width="0.8" stroke-dasharray="1,1.2"/>
<line x1="39.40" y1="332.15" x2="231.00" y2="332.15" stroke="#bdbdbd" stroke-width="0.8" stroke-dasharray="1,1.2"/>
<line x1="39.40" y1="339.20" x2="231.00" y2="339.20" stroke="#bdbdbd" stroke-width="0.8" stroke-dasharray="1,1.2"/>
<line x1="39.40" y1="346.25" x2="231.00" y2="346.25" stroke="#bdbdbd" stroke-width="0.8" stroke-dasharray="1,1.2"/>
<line x1="39.40" y1="272.23" x2="231.00" y2="272.23" stroke="#e2e2e2" stroke-width="0.8" stroke-dasharray="0.8,1.6"/>
<line x1="39.40" y1="279.28" x2="231.00" y2="279.28" stroke="#e2e2e2" stroke-width="0.8" stroke-dasharray="0.8,1.6"/>
<line x1="39.40" y1="286.32" x2="231.00" y2="286.32" stroke="#e2e2e2" stroke-width="0.8" stroke-dasharray="0.8,1.6"/>
<line x1="39.40" y1="293.38" x2="231.00" y2="293.38" stroke="#e2e2e2" stroke-width="0.8" stroke-dasharray="0.8,1.6"/>
<line x1="39.40" y1="300.43" x2="231.00" y2="300.43" stroke="#e2e2e2" stroke-width="0.8" stroke-dasharray="0.8,1.6"/>
<line x1="39.40" y1="307.48" x2="231.00" y2="307.48" stroke="#e2e2e2" stroke-width="0.8" stroke-dasharray="0.8,1.6"/>
<line x1="39.40" y1="314.53" x2="231.00" y2="314.53" stroke="#e2e2e2" stroke-width="0.8" stroke-dasharray="0.8,1.6"/>
<line x1="39.40" y1="321.57" x2="231.00" y2="321.57" stroke="#e2e2e2" stroke-width="0.8" stroke-dasharray="0.8,1.6"/>
<line x1="39.40" y1="328.62" x2="231.00" y2="328.62" stroke="#e2e2e2" stroke-width="0.8" stroke-dasharray="0.8,1.6"/>
<line x1="39.40" y1="335.68" x2="231.00" y2="335.68" stroke="#e2e2e2" stroke-width="0.8" stroke-dasharray="0.8,1.6"/>
<line x1="39.40" y1="342.73" x2="231.00" y2="342.73" stroke="#e2e2e2" stroke-width="0.8" stroke-dasharray="0.8,1.6"/>
<line x1="39.40" y1="349.77" x2="231.00" y2="349.77" stroke="#e2e2e2" stroke-width="0.8" stroke-dasharray="0.8,1.6"/>
<line x1="60.10" y1="267.50" x2="60.10" y2="353.50" stroke="#c8c8c8" stroke-width="0.8" stroke-dasharray="1.2,0.8"/>
<line x1="80.80" y1="267.50" x2="80.80" y2="353.50" stroke="#c8c8c8" stroke-width="0.8" stroke-dasharray="1.2,0.8"/>
<line x1="101.50" y1="267.50" x2="101.50" y2="353.50" stroke="#c8c8c8" stroke-width="0.8" stroke-dasharray="1.2,0.8"/>
<line x1="122.20" y1="267.50" x2="122.20" y2="353.50" stroke="#c8c8c8" stroke-width="0.8" stroke-dasharray="1.2,0.8"/>
<line x1="142.90" y1="267.50" x2="142.90" y2="353.50" stroke="#c8c8c8" stroke-width="0.8" stroke-dasharray="1.2,0.8"/>
<line x1="163.60" y1="267.50" x2="163.60" y2="353.50" stroke="#c8c8c8" stroke-width="0.8" stroke-dasharray="1.2,0.8"/>
<line x1="184.30" y1="267.50" x2="184.30" y2="353.50" stroke="#c8c8c8" stroke-width="0.8" stroke-dasharray="1.2,0.8"/>
<line x1="205.00" y1="267.50" x2="205.00" y2="353.50" stroke="#c8c8c8" stroke-width="0.8" stroke-dasharray="1.2,0.8"/>
<line x1="225.70" y1="267.50" x2="225.70" y2="353.50" stroke="#c8c8c8" stroke-width="0.8" stroke-dasharray="1.2,0.8"/>
<path d="M39.60,282.80 L40.30,282.80 L41.00,282.80 L41.70,282.80 L42.40,282.80 L43.10,282.80 L43.80,282.80 L44.50,282.80 L45.20,282.80 L45.90,282.80 L46.60,282.80 L47.30,282.80 L48.00,282.80 L48.70,282.34 L49.40,286.99 L50.10,291.50 L50.80,294.51 L51.50,298.43 L52.20,301.30 L52.90,304.47 L53.60,307.22 L54.30,306.92 L55.00,308.36 L55.70,312.81 L56.40,312.71 L57.10,315.09 L57.80,313.41 L58.50,315.95 L59.20,317.79 L59.90,316.76 L60.60,320.02 L61.30,320.46 L62.00,317.88 L62.70,318.35 L63.40,320.66 L64.10,322.50 L64.80,320.87 L65.50,320.62 L66.20,321.68 L66.90,320.56 L67.60,321.53 L68.30,322.56 L69.00,323.00 L69.70,322.28 L70.40,322.48 L71.10,322.63 L71.80,323.68 L72.50,323.24 L73.20,322.44 L73.90,325.53 L74.60,324.66 L75.30,325.11 L76.00,323.60 L76.70,326.63 L77.40,326.27 L78.10,323.72 L78.80,324.59 L79.50,326.10 L80.20,326.16 L80.90,327.06 L81.60,325.30 L82.30,326.86 L83.00,326.37 L83.70,325.13 L84.40,326.22 L85.10,327.36 L85.80,327.30 L86.50,326.14 L87.20,326.51 L87.90,324.57 L88.60,325.38 L89.30,327.44 L90.00,326.11 L90.70,325.30 L91.40,326.70 L92.10,327.30 L92.80,327.25 L93.50,326.21 L94.20,326.49 L94.90,326.78 L95.60,327.79 L96.30,326.90 L97.00,326.48 L97.70,326.87 L98.40,325.24 L99.10,325.33 L99.80,327.73 L100.50,328.77 L101.20,327.40 L101.90,326.71 L102.60,325.93 L103.30,327.15 L104.00,328.90 L104.70,328.17 L105.40,327.36 L106.10,328.53 L106.80,326.29 L107.50,327.33 L108.20,328.93 L108.90,327.60 L109.60,327.19 L110.30,326.52 L111.00,327.54 L111.70,329.03 L112.40,325.62 L113.10,328.44 L113.80,328.59 L114.50,328.84 L115.20,328.33 L115.90,328.59 L116.60,327.55 L117.30,327.72 L118.00,327.24 L118.70,325.92 L119.40,328.86 L120.10,327.79 L120.80,326.47 L121.50,327.58 L122.20,327.52 L122.90,327.06 L123.60,327.03 L124.30,327.73 L125.00,328.05 L125.70,328.02 L126.40,327.47 L127.10,325.93 L127.80,326.66 L128.50,326.48 L129.20,327.95 L129.90,328.95 L130.60,328.73 L131.30,328.73 L132.00,328.81 L132.70,326.79 L133.40,328.91 L134.10,328.30 L134.80,326.19 L135.50,325.95 L136.20,325.95 L136.90,328.62 L137.60,326.80 L138.30,326.30 L139.00,328.16 L139.70,327.15 L140.40,326.17 L141.10,326.49 L141.80,327.82 L142.50,326.53 L143.20,326.91 L143.90,328.49 L144.60,327.57 L145.30,327.10 L146.00,327.64 L146.70,326.03 L147.40,327.33 L148.10,327.46 L148.80,326.62 L149.50,326.34 L150.20,329.19 L150.90,327.79 L151.60,326.71 L152.30,328.14 L153.00,328.90 L153.70,326.03 L154.40,326.03 L155.10,326.49 L155.80,328.55 L156.50,326.54 L157.20,328.50 L157.90,328.41 L158.60,327.93 L159.30,326.76 L160.00,329.48 L160.70,328.85 L161.40,327.83 L162.10,326.78 L162.80,328.31 L163.50,327.40 L164.20,328.05 L164.90,327.14 L165.60,328.25 L166.30,326.19 L167.00,327.06 L167.70,329.47 L168.40,329.13 L169.10,327.09 L169.80,329.07 L170.50,327.10 L171.20,329.37 L171.90,328.66 L172.60,327.48 L173.30,326.90 L174.00,326.02 L174.70,329.15 L175.40,326.12 L176.10,328.94 L176.80,329.45 L177.50,328.04 L178.20,326.61 L178.90,329.11 L179.60,329.50 L180.30,328.53 L181.00,327.82 L181.70,327.35 L182.40,327.24 L183.10,326.73 L183.80,328.42 L184.50,327.55 L185.20,326.69 L185.90,326.37 L186.00,328.39" fill="none" stroke="#e03434" stroke-width="1.05" stroke-linejoin="round"/>
<path d="M59.80,282.80 L60.50,282.80 L61.20,282.80 L61.90,282.80 L62.60,282.80 L63.30,282.80 L64.00,282.80 L64.70,282.80 L65.40,282.80 L66.10,282.80 L66.80,282.80 L67.50,282.80 L68.20,282.80 L68.90,282.80 L69.60,282.80 L70.30,282.80 L71.00,282.80 L71.70,282.80 L72.40,282.80 L73.10,282.80 L73.80,283.28 L74.50,287.00 L75.20,289.53 L75.90,292.77 L76.60,297.03 L77.30,299.45 L78.00,301.60 L78.70,302.67 L79.40,305.26 L80.10,306.86 L80.80,308.19 L81.50,308.19 L82.20,310.14 L82.90,311.05 L83.60,312.97 L84.30,314.62 L85.00,315.25 L85.70,314.74 L86.40,315.08 L87.10,315.13 L87.80,314.98 L88.50,315.45 L89.20,317.23 L89.90,317.22 L90.60,317.80 L91.30,319.71 L92.00,318.96 L92.70,319.39 L93.40,318.72 L94.10,318.37 L94.80,319.55 L95.50,319.24 L96.20,320.60 L96.90,322.29 L97.60,321.53 L98.30,320.26 L99.00,322.59 L99.70,322.48 L100.40,322.47 L101.10,323.15 L101.80,322.88 L102.50,323.11 L103.20,321.95 L103.90,323.97 L104.60,324.04 L105.30,321.76 L106.00,323.66 L106.70,323.66 L107.40,323.00 L108.10,323.31 L108.80,323.29 L109.50,324.69 L110.20,323.51 L110.90,324.59 L111.60,323.24 L112.30,324.90 L113.00,325.03 L113.70,323.78 L114.40,324.17 L115.10,325.30 L115.80,324.77 L116.50,324.12 L117.20,323.38 L117.90,323.74 L118.60,324.92 L119.30,323.37 L120.00,325.65 L120.70,323.77 L121.40,325.75 L122.10,323.98 L122.80,325.97 L123.50,325.25 L124.20,324.68 L124.90,324.76 L125.60,325.19 L126.30,325.04 L127.00,324.24 L127.70,323.96 L128.40,324.90 L129.10,326.19 L129.80,325.29 L130.50,323.67 L131.20,325.93 L131.90,325.67 L132.60,326.23 L133.30,324.11 L134.00,325.79 L134.70,323.75 L135.40,325.55 L136.10,324.43 L136.80,324.30 L137.50,326.27 L138.20,323.97 L138.90,325.24 L139.60,326.25 L140.30,324.43 L141.00,324.34 L141.70,326.36 L142.40,325.00 L143.10,325.90 L143.80,323.85 L144.50,324.85 L145.20,324.29 L145.90,325.80 L146.60,324.04 L147.30,326.67 L148.00,323.89 L148.70,326.01 L149.40,323.89 L150.10,324.60 L150.80,326.28 L151.50,324.32 L152.20,324.41 L152.90,325.94 L153.60,325.02 L154.30,324.00 L155.00,326.85 L155.70,324.34 L156.40,324.00 L157.10,324.93 L157.80,325.74 L158.50,326.13 L159.20,324.25 L159.90,324.92 L160.60,324.01 L161.30,325.26 L162.00,326.22 L162.70,326.15 L163.40,326.63 L164.10,326.20 L164.80,326.52 L165.50,326.05 L166.20,325.36 L166.90,324.62 L167.60,325.93 L168.30,324.90 L169.00,324.26 L169.70,325.30 L170.40,326.58 L171.10,324.34 L171.80,325.71 L172.50,325.14 L173.20,325.51 L173.90,324.39 L174.60,326.84 L175.30,324.74 L176.00,325.79 L176.70,325.23 L177.40,324.02 L178.10,325.65 L178.80,324.39 L179.50,324.14 L180.20,324.08 L180.90,324.46 L181.60,324.26 L182.30,325.88 L183.00,325.50 L183.70,326.93 L184.40,326.78 L185.10,326.97 L185.80,324.68 L186.50,325.32 L187.20,324.74 L187.90,325.76 L188.60,325.86 L189.30,326.39 L190.00,326.11 L190.70,324.76 L191.40,325.26 L192.10,325.57 L192.80,324.00 L193.50,324.10 L194.20,325.22 L194.90,324.32 L195.60,326.16 L196.30,324.71 L197.00,324.29 L197.70,324.54 L198.40,324.69 L199.10,324.64 L199.80,325.55 L200.00,325.39" fill="none" stroke="#2f9c3f" stroke-width="1.05" stroke-linejoin="round"/>
<path d="M81.00,282.80 L81.70,282.80 L82.40,282.80 L83.10,282.80 L83.80,282.80 L84.50,282.80 L85.20,282.80 L85.90,282.80 L86.60,282.80 L87.30,282.80 L88.00,282.80 L88.70,282.80 L89.40,282.80 L90.10,282.80 L90.80,282.80 L91.50,282.80 L92.20,282.80 L92.90,282.80 L93.60,282.80 L94.30,282.80 L95.00,282.80 L95.70,282.80 L96.40,282.80 L97.10,282.80 L97.80,282.80 L98.50,283.70 L99.20,286.07 L99.90,288.68 L100.60,292.35 L101.30,295.38 L102.00,296.10 L102.70,298.29 L103.40,302.95 L104.10,302.38 L104.80,303.70 L105.50,307.69 L106.20,307.30 L106.90,309.94 L107.60,309.52 L108.30,310.77 L109.00,309.81 L109.70,312.16 L110.40,313.65 L111.10,313.18 L111.80,314.62 L112.50,314.83 L113.20,313.12 L113.90,315.83 L114.60,315.61 L115.30,314.97 L116.00,314.41 L116.70,317.59 L117.40,316.61 L118.10,317.79 L118.80,318.69 L119.50,318.48 L120.20,319.47 L120.90,317.82 L121.60,319.34 L122.30,318.27 L123.00,320.08 L123.70,320.03 L124.40,317.51 L125.10,317.78 L125.80,318.20 L126.50,320.88 L127.20,319.22 L127.90,320.01 L128.60,319.04 L129.30,319.88 L130.00,319.61 L130.70,319.48 L131.40,320.25 L132.10,320.23 L132.80,321.30 L133.50,320.53 L134.20,321.35 L134.90,321.09 L135.60,321.53 L136.30,320.42 L137.00,318.68 L137.70,321.03 L138.40,321.37 L139.10,321.15 L139.80,319.99 L140.50,320.46 L141.20,318.74 L141.90,320.83 L142.60,319.94 L143.30,318.94 L144.00,318.17 L144.70,320.84 L145.40,321.28 L146.10,318.20 L146.80,320.60 L147.50,319.26 L148.20,318.36 L148.90,318.83 L149.60,320.42 L150.30,320.74 L151.00,317.87 L151.70,319.75 L152.40,317.75 L153.10,319.98 L153.80,318.61 L154.50,320.42 L155.20,320.70 L155.90,319.03 L156.60,320.64 L157.30,318.24 L158.00,317.40 L158.70,319.11 L159.40,317.12 L160.10,317.63 L160.80,318.29 L161.50,318.92 L162.20,317.31 L162.90,316.87 L163.60,319.62 L164.30,317.68 L165.00,319.81 L165.70,319.54 L166.40,317.72 L167.10,317.94 L167.80,318.08 L168.50,318.45 L169.20,318.23 L169.90,318.04 L170.60,318.19 L171.30,319.22 L172.00,317.69 L172.70,317.37 L173.40,318.30 L174.10,316.60 L174.80,316.76 L175.50,319.00 L176.20,317.39 L176.90,317.42 L177.60,315.54 L178.30,316.85 L179.00,317.36 L179.70,315.39 L180.40,317.35 L181.10,317.33 L181.80,315.31 L182.50,317.17 L183.20,316.55 L183.90,317.20 L184.60,316.01 L185.30,317.15 L186.00,317.18 L186.70,314.67 L187.40,314.73 L188.10,316.75 L188.80,317.65 L189.50,315.15 L190.20,315.78 L190.90,316.17 L191.60,315.17 L192.30,315.24 L193.00,314.99 L193.70,315.11 L194.40,315.81 L195.10,314.73 L195.80,314.92 L196.50,316.19 L197.20,313.58 L197.90,315.35 L198.60,315.84 L199.30,314.32 L200.00,313.95 L200.70,315.85 L201.40,313.86 L202.10,313.61 L202.80,314.38 L203.50,315.20 L204.20,313.10 L204.90,313.77 L205.60,313.74 L206.30,315.37 L207.00,313.95 L207.70,315.29 L208.40,312.89 L209.10,313.38 L209.80,314.37 L210.50,315.10 L211.20,313.55 L211.90,312.71 L212.60,312.28 L213.30,313.60 L214.00,312.37 L214.70,314.39 L215.40,314.42 L216.10,312.12 L216.80,312.37 L217.50,314.10" fill="none" stroke="#4a42a4" stroke-width="1.05" stroke-linejoin="round"/>
<path d="M102.50,282.80 L103.20,282.80 L103.90,282.80 L104.60,282.80 L105.30,282.80 L106.00,282.80 L106.70,282.80 L107.40,282.80 L108.10,282.80 L108.80,282.80 L109.50,282.80 L110.20,282.80 L110.90,282.80 L111.60,282.80 L112.30,282.80 L113.00,282.80 L113.70,282.80 L114.40,282.80 L115.10,282.80 L115.80,282.80 L116.50,282.80 L117.20,282.80 L117.90,282.80 L118.60,282.80 L119.30,282.80 L120.00,282.80 L120.70,282.80 L121.40,282.80 L122.10,282.80 L122.80,282.80 L123.50,283.60 L124.20,289.01 L124.90,294.70 L125.60,298.93 L126.30,302.71 L127.00,307.80 L127.70,313.91 L128.40,314.60 L129.10,315.79 L129.80,313.93 L130.50,317.22 L131.20,316.75 L131.90,316.44 L132.60,316.35 L133.30,317.31 L134.00,321.90 L134.70,321.62 L135.40,321.80 L136.10,322.07 L136.80,318.74 L137.50,319.75 L138.20,321.96 L138.90,322.90 L139.60,323.95 L140.30,324.37 L141.00,319.82 L141.70,323.15 L142.40,323.75 L143.10,322.97 L143.80,321.21 L144.50,323.19 L145.20,321.10 L145.90,326.38 L146.60,326.17 L147.30,324.48 L148.00,323.20 L148.70,327.06 L149.40,325.25 L150.10,327.33 L150.80,327.35 L151.50,325.55 L152.20,325.22 L152.90,326.56 L153.60,325.79 L154.30,324.40 L155.00,325.50 L155.70,328.78 L156.40,324.39 L157.10,324.64 L157.80,328.36 L158.50,326.52 L159.20,328.27 L159.90,328.13 L160.60,327.59 L161.30,331.75 L162.00,327.17 L162.70,328.71 L163.40,327.68 L164.10,330.50 L164.80,328.59 L165.50,329.27 L166.20,331.80 L166.90,329.43 L167.60,331.04 L168.30,333.31 L169.00,328.67 L169.70,328.62 L170.40,329.81 L171.10,333.22 L171.80,332.51 L172.50,330.42 L173.20,331.17 L173.90,330.44 L174.60,332.31 L175.30,330.00 L176.00,334.12 L176.70,335.50 L177.40,336.04 L178.10,334.90 L178.80,336.44 L179.50,330.98 L180.20,332.74 L180.90,336.84 L181.60,335.73 L182.30,333.58 L183.00,336.81 L183.70,334.91 L184.40,336.13 L185.10,333.02 L185.80,332.44 L186.50,333.99 L187.20,332.18 L187.90,333.68 L188.60,337.20 L189.30,333.45 L190.00,331.56 L190.70,331.80 L191.40,332.59 L192.10,336.31 L192.80,333.82 L193.50,333.42 L194.20,332.29 L194.90,337.64 L195.60,334.32 L196.30,333.06 L197.00,332.21 L197.70,332.22 L198.40,332.93 L199.10,336.02 L199.80,332.89 L200.50,332.25 L201.20,334.94 L201.90,333.49 L202.60,337.99 L203.30,332.73 L204.00,335.18 L204.70,336.64 L205.40,334.46 L206.10,337.93 L206.80,334.87 L207.50,333.45 L208.20,334.46 L208.90,332.22 L209.60,334.53 L210.30,333.49 L211.00,337.34 L211.70,336.99 L212.40,334.99 L213.10,332.19 L213.80,333.53 L214.50,333.45 L215.20,333.25 L215.90,333.39 L216.60,337.22 L217.30,332.85 L218.00,332.31 L218.70,337.57 L219.40,335.39 L220.10,337.94 L220.80,334.42 L221.50,337.41 L222.20,335.92 L222.90,336.75 L223.60,336.47 L224.30,334.97 L225.00,332.56 L225.70,333.27 L226.40,337.24 L227.10,337.40 L227.80,337.55 L228.50,334.02 L229.20,335.94 L229.90,336.80 L230.60,335.85" fill="none" stroke="#4a42a4" stroke-width="1.05" stroke-linejoin="round"/>
<path d="M124.00,282.80 L124.70,282.80 L125.40,282.80 L126.10,282.80 L126.80,282.80 L127.50,282.80 L128.20,282.80 L128.90,282.80 L129.60,282.80 L130.30,282.80 L131.00,282.80 L131.70,282.80 L132.40,282.80 L133.10,282.80 L133.80,282.80 L134.50,282.80 L135.20,282.80 L135.90,282.80 L136.60,282.80 L137.30,282.80 L138.00,282.80 L138.70,282.80 L139.40,282.80 L140.10,282.80 L140.80,282.80 L141.50,282.80 L142.20,282.80 L142.90,282.80 L143.60,282.80 L144.30,282.80 L145.00,282.80 L145.70,282.80 L146.40,282.80 L147.10,286.57 L147.80,291.15 L148.50,294.96 L149.20,298.83 L149.90,301.53 L150.60,304.71 L151.30,302.38 L152.00,306.43 L152.70,310.41 L153.40,310.00 L154.10,312.21 L154.80,309.43 L155.50,312.14 L156.20,311.97 L156.90,314.05 L157.60,314.85 L158.30,312.81 L159.00,314.44 L159.70,315.39 L160.40,319.11 L161.10,319.04 L161.80,316.78 L162.50,320.49 L163.20,317.99 L163.90,320.89 L164.60,319.11 L165.30,319.09 L166.00,323.84 L166.70,321.24 L167.40,321.85 L168.10,326.10 L168.80,326.15 L169.50,323.93 L170.20,327.73 L170.90,326.28 L171.60,327.52 L172.30,325.73 L173.00,329.62 L173.70,328.77 L174.40,330.44 L175.10,330.44 L175.80,327.93 L176.50,328.58 L177.20,328.00 L177.90,328.25 L178.60,328.21 L179.30,329.70 L180.00,331.49 L180.70,328.97 L181.40,332.55 L182.10,331.25 L182.80,331.33 L183.50,333.98 L184.20,332.57 L184.90,331.99 L185.60,332.99 L186.30,334.27 L187.00,331.37 L187.70,335.99 L188.40,331.63 L189.10,335.33 L189.80,336.00 L190.50,332.24 L191.20,336.14 L191.90,334.33 L192.60,335.46 L193.30,332.82 L194.00,333.09 L194.70,333.83 L195.40,337.64 L196.10,334.09 L196.80,336.87 L197.50,337.80 L198.20,337.95 L198.90,335.17 L199.60,335.32 L200.30,336.23 L201.00,337.52 L201.70,334.41 L202.40,337.58 L203.10,337.91 L203.80,338.30 L204.50,334.44 L205.20,338.90 L205.90,334.89 L206.60,336.18" fill="none" stroke="#1e1e1e" stroke-width="1.05" stroke-linejoin="round"/>
<path d="M146.00,282.80 L146.60,282.80 L147.20,282.80 L147.80,282.80 L148.40,282.80 L149.00,282.80 L149.60,282.80 L150.20,282.80 L150.80,282.80 L151.40,282.80 L152.00,282.80 L152.60,282.80 L153.20,282.80 L153.80,282.80 L154.40,282.80 L155.00,282.80 L155.60,282.80 L156.20,282.80 L156.80,282.80 L157.40,282.80 L158.00,282.80 L158.60,282.80 L159.20,282.80 L159.80,282.80 L160.40,282.80 L161.00,282.80 L161.60,282.80 L162.20,282.80 L162.80,282.80 L163.40,282.80 L164.00,282.80 L164.60,282.80 L165.20,282.80 L165.80,282.80 L166.40,282.80 L167.00,282.80 L167.60,282.80 L168.20,282.80 L168.80,285.03 L169.40,289.56 L170.00,292.95 L170.60,294.90 L171.20,296.03 L171.80,303.18 L172.40,304.02 L173.00,308.49 L173.60,307.00 L174.20,312.42 L174.80,309.51 L175.40,315.20 L176.00,315.59 L176.60,313.84 L177.20,315.97 L177.80,318.26 L178.40,314.62 L179.00,318.27 L179.60,320.97 L180.20,316.70 L180.80,321.91 L181.40,321.35 L182.00,323.23 L182.60,319.23 L183.20,317.59 L183.80,324.33 L184.40,324.88 L185.00,322.23 L185.60,319.65 L186.20,321.08 L186.80,325.44 L187.40,322.93 L188.00,329.26 L188.60,326.58 L189.20,323.68 L189.80,328.20 L190.40,326.06 L191.00,331.52 L191.60,331.75 L192.20,328.70 L192.80,330.27 L193.40,331.17 L194.00,332.55 L194.60,334.48 L195.20,326.56 L195.80,329.92 L196.40,332.47 L197.00,330.28 L197.60,332.92 L198.20,328.67 L198.80,335.76 L199.40,332.78 L200.00,329.32 L200.60,334.26 L201.20,331.32 L201.80,330.43 L202.40,333.10 L203.00,330.20 L203.60,330.97 L204.20,336.88 L204.80,335.54 L205.40,329.65 L206.00,336.52 L206.60,329.97 L207.20,332.88 L207.80,338.05 L208.40,335.69 L209.00,333.06 L209.60,333.83 L210.20,334.03 L210.80,331.75 L211.40,339.47 L212.00,331.17 L212.60,334.45 L213.20,337.32 L213.80,334.28 L214.40,339.44 L215.00,333.00 L215.60,339.48 L216.20,338.75 L216.80,336.82 L217.40,338.78 L218.00,334.92 L218.60,338.32 L219.20,338.04 L219.80,335.61 L220.40,335.24 L221.00,337.33 L221.60,334.75 L222.20,331.94 L222.80,337.78 L223.40,333.58 L224.00,335.56 L224.60,338.19 L225.20,332.84 L225.80,331.54 L226.40,332.47 L227.00,336.60 L227.60,334.62 L228.20,333.72 L228.80,335.47 L229.40,339.69 L230.00,333.79 L230.60,335.19" fill="none" stroke="#8d3fae" stroke-width="1.05" stroke-linejoin="round"/>
<line x1="39.40" y1="268.50" x2="39.40" y2="353.50" stroke="#111" stroke-width="1.2"/>
<line x1="39.40" y1="353.50" x2="231.00" y2="353.50" stroke="#111" stroke-width="1.2"/>
<line x1="60.10" y1="353.50" x2="60.10" y2="356.00" stroke="#111" stroke-width="0.9"/>
<text x="60.10" y="366.30" font-size="7.8" fill="#222" text-anchor="middle">1</text>
<line x1="80.80" y1="353.50" x2="80.80" y2="356.00" stroke="#111" stroke-width="0.9"/>
<text x="80.80" y="366.30" font-size="7.8" fill="#222" text-anchor="middle">2</text>
<line x1="101.50" y1="353.50" x2="101.50" y2="356.00" stroke="#111" stroke-width="0.9"/>
<text x="101.50" y="366.30" font-size="7.8" fill="#222" text-anchor="middle">3</text>
<line x1="122.20" y1="353.50" x2="122.20" y2="356.00" stroke="#111" stroke-width="0.9"/>
<text x="122.20" y="366.30" font-size="7.8" fill="#222" text-anchor="middle">4</text>
<line x1="142.90" y1="353.50" x2="142.90" y2="356.00" stroke="#111" stroke-width="0.9"/>
<text x="142.90" y="366.30" font-size="7.8" fill="#222" text-anchor="middle">5</text>
<line x1="163.60" y1="353.50" x2="163.60" y2="356.00" stroke="#111" stroke-width="0.9"/>
<text x="163.60" y="366.30" font-size="7.8" fill="#222" text-anchor="middle">6</text>
<line x1="184.30" y1="353.50" x2="184.30" y2="356.00" stroke="#111" stroke-width="0.9"/>
<text x="184.30" y="366.30" font-size="7.8" fill="#222" text-anchor="middle">7</text>
<line x1="205.00" y1="353.50" x2="205.00" y2="356.00" stroke="#111" stroke-width="0.9"/>
<text x="205.00" y="366.30" font-size="7.8" fill="#222" text-anchor="middle">8</text>
<line x1="225.70" y1="353.50" x2="225.70" y2="356.00" stroke="#111" stroke-width="0.9"/>
<text x="225.70" y="366.30" font-size="7.8" fill="#222" text-anchor="middle">9</text>
<text x="230.80" y="366.30" font-size="7.8" fill="#333" textLength="10.80" lengthAdjust="spacingAndGlyphs">min</text>
<text x="130.50" y="277.85" font-size="5.8" fill="#111" text-anchor="middle" font-weight="bold">-10</text>
<text x="130.50" y="284.90" font-size="5.8" fill="#111" text-anchor="middle" font-weight="bold">0</text>
<text x="130.50" y="291.95" font-size="5.8" fill="#111" text-anchor="middle" font-weight="bold">10</text>
<text x="130.50" y="299.00" font-size="5.8" fill="#111" text-anchor="middle" font-weight="bold">20</text>
<text x="130.50" y="306.05" font-size="5.8" fill="#111" text-anchor="middle" font-weight="bold">30</text>
<text x="130.50" y="313.10" font-size="5.8" fill="#111" text-anchor="middle" font-weight="bold">40</text>
<text x="130.50" y="320.15" font-size="5.8" fill="#111" text-anchor="middle" font-weight="bold">50</text>
<text x="130.50" y="327.20" font-size="5.8" fill="#111" text-anchor="middle" font-weight="bold">60</text>
<text x="130.50" y="334.25" font-size="5.8" fill="#111" text-anchor="middle" font-weight="bold">70</text>
<text x="130.50" y="341.30" font-size="5.8" fill="#111" text-anchor="middle" font-weight="bold">80</text>
<text x="130.50" y="348.35" font-size="5.8" fill="#111" text-anchor="middle" font-weight="bold">90</text>
<text x="46.50" y="279.50" font-size="5.5" fill="#e03434" text-anchor="middle" font-weight="bold">1</text>
<text x="66.70" y="279.50" font-size="5.5" fill="#2f9c3f" text-anchor="middle" font-weight="bold">2</text>
<text x="71.90" y="276.80" font-size="6.5" fill="#2f9c3f" text-anchor="middle" font-weight="bold">*</text>
<text x="88.10" y="279.50" font-size="5.5" fill="#4a42a4" text-anchor="middle" font-weight="bold">3</text>
<text x="95.50" y="276.80" font-size="6.5" fill="#4a42a4" text-anchor="middle" font-weight="bold">*</text>
<text x="108.60" y="279.50" font-size="5.5" fill="#4a42a4" text-anchor="middle" font-weight="bold">4</text>
<text x="121.50" y="275.30" font-size="6.5" fill="#1e1e1e" text-anchor="middle" font-weight="bold">*</text>
<text x="150.40" y="279.50" font-size="5.5" fill="#8d3fae" text-anchor="middle" font-weight="bold">6</text>
<text x="144.50" y="277.80" font-size="6.5" fill="#1e1e1e" text-anchor="middle" font-weight="bold">*</text>
<text x="168.00" y="276.80" font-size="6.5" fill="#8d3fae" text-anchor="middle" font-weight="bold">*</text>
<text x="208.00" y="311.00" font-size="5.5" fill="#4a42a4" text-anchor="middle" font-weight="bold">3</text>
<text x="103.00" y="323.50" font-size="5.5" fill="#2f9c3f" text-anchor="middle" font-weight="bold">2</text>
<text x="113.00" y="329.50" font-size="5.5" fill="#e03434" text-anchor="middle" font-weight="bold">1</text>
<line x1="258.10" y1="268.70" x2="496.50" y2="268.70" stroke="#c9c9c9" stroke-width="0.7"/>
<line x1="258.10" y1="275.75" x2="496.50" y2="275.75" stroke="#c9c9c9" stroke-width="0.7"/>
<line x1="258.10" y1="282.80" x2="496.50" y2="282.80" stroke="#c9c9c9" stroke-width="0.7"/>
<line x1="258.10" y1="289.85" x2="496.50" y2="289.85" stroke="#c9c9c9" stroke-width="0.7"/>
<line x1="258.10" y1="296.90" x2="496.50" y2="296.90" stroke="#c9c9c9" stroke-width="0.7"/>
<line x1="258.10" y1="303.95" x2="496.50" y2="303.95" stroke="#c9c9c9" stroke-width="0.7"/>
<line x1="258.10" y1="311.00" x2="496.50" y2="311.00" stroke="#c9c9c9" stroke-width="0.7"/>
<line x1="258.10" y1="318.05" x2="496.50" y2="318.05" stroke="#c9c9c9" stroke-width="0.7"/>
<line x1="258.10" y1="325.10" x2="496.50" y2="325.10" stroke="#c9c9c9" stroke-width="0.7"/>
<line x1="258.10" y1="332.15" x2="496.50" y2="332.15" stroke="#c9c9c9" stroke-width="0.7"/>
<line x1="258.10" y1="339.20" x2="496.50" y2="339.20" stroke="#c9c9c9" stroke-width="0.7"/>
<line x1="258.10" y1="346.25" x2="496.50" y2="346.25" stroke="#c9c9c9" stroke-width="0.7"/>
<line x1="258.10" y1="272.23" x2="496.50" y2="272.23" stroke="#e2e2e2" stroke-width="0.8" stroke-dasharray="0.8,1.6"/>
<line x1="258.10" y1="279.28" x2="496.50" y2="279.28" stroke="#e2e2e2" stroke-width="0.8" stroke-dasharray="0.8,1.6"/>
<line x1="258.10" y1="286.32" x2="496.50" y2="286.32" stroke="#e2e2e2" stroke-width="0.8" stroke-dasharray="0.8,1.6"/>
<line x1="258.10" y1="293.38" x2="496.50" y2="293.38" stroke="#e2e2e2" stroke-width="0.8" stroke-dasharray="0.8,1.6"/>
<line x1="258.10" y1="300.43" x2="496.50" y2="300.43" stroke="#e2e2e2" stroke-width="0.8" stroke-dasharray="0.8,1.6"/>
<line x1="258.10" y1="307.48" x2="496.50" y2="307.48" stroke="#e2e2e2" stroke-width="0.8" stroke-dasharray="0.8,1.6"/>
<line x1="258.10" y1="314.53" x2="496.50" y2="314.53" stroke="#e2e2e2" stroke-width="0.8" stroke-dasharray="0.8,1.6"/>
<line x1="258.10" y1="321.57" x2="496.50" y2="321.57" stroke="#e2e2e2" stroke-width="0.8" stroke-dasharray="0.8,1.6"/>
<line x1="258.10" y1="328.62" x2="496.50" y2="328.62" stroke="#e2e2e2" stroke-width="0.8" stroke-dasharray="0.8,1.6"/>
<line x1="258.10" y1="335.68" x2="496.50" y2="335.68" stroke="#e2e2e2" stroke-width="0.8" stroke-dasharray="0.8,1.6"/>
<line x1="258.10" y1="342.73" x2="496.50" y2="342.73" stroke="#e2e2e2" stroke-width="0.8" stroke-dasharray="0.8,1.6"/>
<line x1="258.10" y1="349.77" x2="496.50" y2="349.77" stroke="#e2e2e2" stroke-width="0.8" stroke-dasharray="0.8,1.6"/>
<line x1="283.70" y1="267.50" x2="283.70" y2="353.50" stroke="#c8c8c8" stroke-width="0.8" stroke-dasharray="1.2,0.8"/>
<line x1="309.30" y1="267.50" x2="309.30" y2="353.50" stroke="#c8c8c8" stroke-width="0.8" stroke-dasharray="1.2,0.8"/>
<line x1="334.90" y1="267.50" x2="334.90" y2="353.50" stroke="#c8c8c8" stroke-width="0.8" stroke-dasharray="1.2,0.8"/>
<line x1="360.50" y1="267.50" x2="360.50" y2="353.50" stroke="#c8c8c8" stroke-width="0.8" stroke-dasharray="1.2,0.8"/>
<line x1="386.10" y1="267.50" x2="386.10" y2="353.50" stroke="#c8c8c8" stroke-width="0.8" stroke-dasharray="1.2,0.8"/>
<line x1="411.70" y1="267.50" x2="411.70" y2="353.50" stroke="#c8c8c8" stroke-width="0.8" stroke-dasharray="1.2,0.8"/>
<line x1="437.30" y1="267.50" x2="437.30" y2="353.50" stroke="#c8c8c8" stroke-width="0.8" stroke-dasharray="1.2,0.8"/>
<line x1="462.90" y1="267.50" x2="462.90" y2="353.50" stroke="#c8c8c8" stroke-width="0.8" stroke-dasharray="1.2,0.8"/>
<line x1="488.50" y1="267.50" x2="488.50" y2="353.50" stroke="#c8c8c8" stroke-width="0.8" stroke-dasharray="1.2,0.8"/>
<path d="M258.30,282.40 L259.00,282.40 L259.70,282.40 L260.40,282.40 L261.10,282.40 L261.80,282.40 L262.50,282.40 L263.20,282.40 L263.90,282.40 L264.60,282.40 L265.30,282.40 L266.00,282.40 L266.70,282.40 L267.40,282.40 L268.10,282.40 L268.80,282.40 L269.50,282.40 L270.20,282.40 L270.90,282.40 L271.60,282.40 L272.30,282.40 L273.00,282.40 L273.70,282.40 L274.40,282.31 L275.10,284.09 L275.80,288.36 L276.50,290.41 L277.20,293.32 L277.90,296.11 L278.60,297.04 L279.30,300.26 L280.00,302.64 L280.70,305.12 L281.40,303.51 L282.10,305.86 L282.80,306.02 L283.50,310.95 L284.20,311.43 L284.90,309.04 L285.60,314.85 L286.30,315.60 L287.00,314.75 L287.70,315.26 L288.40,313.53 L289.10,313.39 L289.80,316.62 L290.50,314.70 L291.20,315.85 L291.90,316.56 L292.60,315.87 L293.30,318.51 L294.00,318.74 L294.70,321.16 L295.40,319.78 L296.10,320.70 L296.80,320.24 L297.50,321.33 L298.20,320.50 L298.90,319.79 L299.60,323.73 L300.30,323.92 L301.00,323.29 L301.70,322.77 L302.40,320.89 L303.10,320.60 L303.80,321.05 L304.50,320.04 L305.20,323.79 L305.90,322.01 L306.60,324.44 L307.30,322.15 L308.00,325.23 L308.70,324.75 L309.40,320.43 L310.10,321.61 L310.80,325.33 L311.50,323.12 L312.20,325.85 L312.90,322.88 L313.60,321.26 L314.30,324.22 L315.00,325.05 L315.70,322.47 L316.40,321.57 L317.10,322.90 L317.80,326.23 L318.50,325.20 L319.20,321.92 L319.90,322.63 L320.60,321.91 L321.30,321.74 L322.00,325.61 L322.70,322.42 L323.40,324.44 L324.10,323.89 L324.80,322.58 L325.50,325.42 L326.20,322.33 L326.90,325.02 L327.60,322.30 L328.30,323.91 L329.00,322.85 L329.70,323.16 L330.40,326.83 L331.10,325.98 L331.80,323.40 L332.50,326.44 L333.20,322.95 L333.90,323.92 L334.60,326.33 L335.30,325.24 L336.00,322.43 L336.70,327.07 L337.40,323.05 L338.10,323.29 L338.80,325.98 L339.50,323.68 L340.20,323.52 L340.90,322.37 L341.60,322.47 L342.30,325.04 L343.00,323.28 L343.70,325.15 L344.40,323.97 L345.10,324.40 L345.80,327.04 L346.50,324.57 L347.20,325.05 L347.90,326.58 L348.60,323.03 L349.30,322.88 L350.00,326.81 L350.70,326.34 L351.40,323.39 L352.10,323.09 L352.80,325.95 L353.50,327.00 L354.20,323.14 L354.90,327.06 L355.60,326.71 L356.30,325.26 L357.00,324.32 L357.70,322.67 L358.40,322.34 L359.10,327.14 L359.80,323.38 L360.50,325.81 L361.20,323.48 L361.90,326.43 L362.60,325.25 L363.30,323.68 L364.00,323.07 L364.70,325.90 L365.40,322.52 L366.10,323.35 L366.80,325.07 L367.50,326.60 L368.20,325.36 L368.50,323.62" fill="none" stroke="#e03434" stroke-width="1.05" stroke-linejoin="round"/>
<path d="M282.30,282.60 L283.00,282.60 L283.70,282.60 L284.40,282.60 L285.10,282.60 L285.80,282.60 L286.50,282.60 L287.20,282.60 L287.90,282.60 L288.60,282.60 L289.30,282.60 L290.00,282.60 L290.70,282.60 L291.40,282.60 L292.10,282.60 L292.80,282.60 L293.50,282.60 L294.20,282.60 L294.90,282.60 L295.60,282.60 L296.30,282.60 L297.00,282.60 L297.70,282.60 L298.40,282.60 L299.10,282.60 L299.80,282.60 L300.50,282.60 L301.20,282.60 L301.90,282.60 L302.60,282.60 L303.30,282.60 L304.00,282.60 L304.70,282.60 L305.40,282.60 L306.10,282.58 L306.80,284.25 L307.50,287.52 L308.20,289.76 L308.90,292.06 L309.60,294.81 L310.30,296.63 L311.00,299.41 L311.70,300.82 L312.40,302.08 L313.10,303.27 L313.80,304.67 L314.50,304.47 L315.20,306.11 L315.90,306.29 L316.60,308.84 L317.30,307.50 L318.00,309.95 L318.70,308.74 L319.40,310.73 L320.10,310.36 L320.80,310.96 L321.50,312.41 L322.20,310.81 L322.90,311.25 L323.60,313.61 L324.30,312.92 L325.00,312.19 L325.70,314.59 L326.40,314.72 L327.10,312.93 L327.80,313.88 L328.50,313.38 L329.20,313.98 L329.90,314.88 L330.60,313.93 L331.30,315.36 L332.00,313.94 L332.70,314.36 L333.40,316.02 L334.10,315.14 L334.80,315.29 L335.50,315.81 L336.20,315.62 L336.90,315.49 L337.60,314.72 L338.30,316.47 L339.00,317.12 L339.70,317.22 L340.40,316.53 L341.10,315.86 L341.80,315.94 L342.50,316.78 L343.20,316.79 L343.90,315.50 L344.60,315.84 L345.30,316.19 L346.00,316.59 L346.70,317.35 L347.40,316.64 L348.10,315.55 L348.80,317.49 L349.50,316.58 L350.20,316.83 L350.90,316.15 L351.60,316.67 L352.30,316.60 L353.00,317.55 L353.70,315.97 L354.40,317.06 L355.10,316.19 L355.80,317.46 L356.50,315.90 L357.20,316.49 L357.90,316.67 L358.60,317.39 L359.30,316.00 L360.00,317.00 L360.70,316.41 L361.40,316.60 L362.10,317.08 L362.80,318.25 L363.50,317.12 L364.20,318.27 L364.90,316.39 L365.60,318.21 L366.30,316.88 L367.00,316.47 L367.70,317.82 L368.40,318.22 L369.10,316.06 L369.80,316.69 L370.50,317.91 L371.20,316.88 L371.90,316.65 L372.60,316.10 L373.30,316.18 L374.00,317.57 L374.70,318.45 L375.40,318.49 L376.10,317.31 L376.80,316.17 L377.50,316.89 L378.20,318.01 L378.90,318.12 L379.60,317.66 L380.30,316.68 L381.00,317.40 L381.70,317.28 L382.40,317.64 L383.10,316.77 L383.80,318.42 L384.50,318.29 L385.20,316.54 L385.90,316.85 L386.60,318.25 L387.30,316.82 L388.00,318.42 L388.70,317.40 L389.40,317.83 L390.00,317.86" fill="none" stroke="#2f9c3f" stroke-width="1.05" stroke-linejoin="round"/>
<path d="M309.00,282.80 L309.70,282.80 L310.40,282.80 L311.10,282.80 L311.80,282.80 L312.50,282.80 L313.20,282.80 L313.90,282.80 L314.60,282.80 L315.30,282.80 L316.00,282.80 L316.70,282.80 L317.40,282.80 L318.10,282.80 L318.80,282.80 L319.50,282.80 L320.20,282.80 L320.90,282.80 L321.60,282.80 L322.30,282.80 L323.00,282.80 L323.70,282.80 L324.40,282.80 L325.10,282.80 L325.80,282.80 L326.50,282.80 L327.20,282.80 L327.90,282.80 L328.60,282.80 L329.30,282.80 L330.00,282.80 L330.70,282.80 L331.40,282.80 L332.10,282.80 L332.80,282.80 L333.50,282.80 L334.20,282.80 L334.90,282.80 L335.60,282.80 L336.30,282.65 L337.00,284.28 L337.70,286.40 L338.40,288.40 L339.10,289.21 L339.80,290.56 L340.50,291.55 L341.20,292.63 L341.90,294.38 L342.60,294.06 L343.30,295.46 L344.00,295.48 L344.70,296.15 L345.40,296.86 L346.10,298.01 L346.80,297.97 L347.50,297.23 L348.20,298.01 L348.90,298.04 L349.60,299.60 L350.30,299.71 L351.00,299.91 L351.70,300.14 L352.40,300.16 L353.10,300.69 L353.80,300.56 L354.50,299.73 L355.20,300.93 L355.90,300.40 L356.60,300.99 L357.30,300.75 L358.00,300.61 L358.70,300.58 L359.40,300.79 L360.10,300.66 L360.80,300.38 L361.50,301.72 L362.20,301.75 L362.90,302.15 L363.60,301.68 L364.30,301.50 L365.00,301.90 L365.70,300.85 L366.40,301.87 L367.10,301.50 L367.80,301.06 L368.50,301.15 L369.20,301.77 L369.90,301.32 L370.60,301.73 L371.30,302.03 L372.00,301.68 L372.70,301.24 L373.40,301.91 L374.10,301.48 L374.80,301.51 L375.50,301.46 L376.20,301.79 L376.90,301.29 L377.60,302.35 L378.30,302.92 L379.00,301.93 L379.70,302.55 L380.40,302.96 L381.10,301.38 L381.80,301.58 L382.50,302.80 L383.20,302.88 L383.90,302.54 L384.60,301.70 L385.30,302.17 L386.00,303.01 L386.70,303.06 L387.40,302.93 L388.10,301.87 L388.80,303.06 L389.50,302.21 L390.20,302.84 L390.90,301.81 L391.60,303.33 L392.30,302.68 L393.00,302.91 L393.70,302.00 L394.40,302.75 L395.10,302.70 L395.80,302.73 L396.50,302.32 L397.20,303.00 L397.90,302.31 L398.60,302.24 L399.30,302.02 L400.00,302.97 L400.70,301.95 L401.40,302.16 L402.10,301.89 L402.80,302.94 L403.50,302.79 L404.20,302.78 L404.90,301.88 L405.60,302.61 L406.30,302.45 L407.00,302.01 L407.70,301.85 L408.40,303.65 L409.10,302.09 L409.80,302.42 L410.50,302.37 L411.20,302.97 L411.90,302.04 L412.60,302.76 L413.30,302.58 L414.00,303.43 L414.70,301.95 L415.40,302.55 L416.10,302.85 L416.80,303.71 L417.50,302.90 L418.20,302.83 L418.90,303.19 L419.60,302.53 L420.30,302.06 L421.00,302.91 L421.00,303.65" fill="none" stroke="#4a42a4" stroke-width="1.05" stroke-linejoin="round"/>
<path d="M336.00,282.80 L336.70,282.80 L337.40,282.80 L338.10,282.80 L338.80,282.80 L339.50,282.80 L340.20,282.80 L340.90,282.80 L341.60,282.80 L342.30,282.80 L343.00,282.80 L343.70,282.80 L344.40,282.80 L345.10,282.80 L345.80,282.80 L346.50,282.80 L347.20,282.80 L347.90,282.80 L348.60,282.80 L349.30,282.80 L350.00,282.80 L350.70,282.80 L351.40,282.80 L352.10,282.80 L352.80,282.80 L353.50,282.80 L354.20,282.80 L354.90,282.80 L355.60,282.80 L356.30,282.80 L357.00,282.80 L357.70,282.80 L358.40,282.80 L359.10,282.80 L359.80,282.80 L360.50,282.80 L361.20,282.80 L361.90,282.80 L362.60,282.80 L363.30,282.80 L364.00,282.80 L364.70,282.80 L365.40,282.80 L366.10,281.92 L366.80,285.87 L367.50,289.79 L368.20,294.36 L368.90,294.73 L369.60,297.10 L370.30,301.77 L371.00,303.41 L371.70,302.93 L372.40,306.88 L373.10,306.37 L373.80,309.99 L374.50,306.82 L375.20,308.43 L375.90,313.61 L376.60,310.89 L377.30,310.96 L378.00,315.06 L378.70,314.52 L379.40,311.95 L380.10,315.00 L380.80,316.15 L381.50,313.36 L382.20,316.85 L382.90,313.81 L383.60,315.50 L384.30,314.18 L385.00,315.23 L385.70,320.44 L386.40,317.01 L387.10,321.00 L387.80,317.68 L388.50,318.96 L389.20,320.85 L389.90,319.84 L390.60,316.33 L391.30,319.55 L392.00,319.99 L392.70,317.23 L393.40,316.82 L394.10,321.94 L394.80,319.75 L395.50,317.82 L396.20,319.58 L396.90,318.19 L397.60,322.00 L398.30,320.19 L399.00,317.73 L399.70,322.40 L400.40,317.81 L401.10,319.11 L401.80,317.57 L402.50,322.20 L403.20,318.25 L403.90,320.95 L404.60,318.24 L405.30,320.78 L406.00,322.14 L406.70,321.23 L407.40,320.77 L408.10,321.01 L408.80,320.74 L409.50,321.80 L410.20,318.63 L410.90,321.10 L411.60,319.61 L412.30,323.67 L413.00,324.18 L413.70,318.62 L414.40,319.14 L415.10,322.76 L415.80,321.94 L416.50,318.43 L417.20,322.84 L417.90,324.40 L418.60,321.08 L419.30,320.62 L420.00,322.06 L420.70,324.45 L421.40,320.14 L422.10,320.40 L422.80,319.69 L423.50,322.52 L424.20,321.52 L424.90,320.17 L425.60,321.03 L426.30,318.78 L427.00,320.57 L427.70,324.87 L428.40,322.34 L429.10,320.41 L429.80,324.60 L430.50,320.91 L431.20,320.24 L431.90,318.86 L432.60,319.58 L433.30,319.93 L434.00,320.13 L434.70,324.25 L435.40,320.37 L436.10,320.27 L436.80,322.55 L437.50,324.56 L438.20,320.56 L438.90,323.57 L439.60,321.07 L440.30,322.30 L441.00,322.53 L441.70,324.75 L442.40,323.57 L443.10,321.98 L443.80,324.11 L444.50,321.08 L445.20,321.19 L445.90,324.88 L446.60,322.24 L446.70,323.69" fill="none" stroke="#4a42a4" stroke-width="1.05" stroke-linejoin="round"/>
<path d="M365.00,282.80 L365.70,282.80 L366.40,282.80 L367.10,282.80 L367.80,282.80 L368.50,282.80 L369.20,282.80 L369.90,282.80 L370.60,282.80 L371.30,282.80 L372.00,282.80 L372.70,282.80 L373.40,282.80 L374.10,282.80 L374.80,282.80 L375.50,282.80 L376.20,282.80 L376.90,282.80 L377.60,282.80 L378.30,282.80 L379.00,282.80 L379.70,282.80 L380.40,282.80 L381.10,282.80 L381.80,282.80 L382.50,282.80 L383.20,282.80 L383.90,282.80 L384.60,282.80 L385.30,282.80 L386.00,282.80 L386.70,282.80 L387.40,282.80 L388.10,282.80 L388.80,282.80 L389.50,282.80 L390.20,282.80 L390.90,282.80 L391.60,282.80 L392.30,282.80 L393.00,282.80 L393.70,282.80 L394.40,282.80 L395.10,282.80 L395.80,282.80 L396.50,282.80 L397.20,283.03 L397.90,283.27 L398.60,284.39 L399.30,284.22 L400.00,286.27 L400.70,284.75 L401.40,287.48 L402.10,287.57 L402.80,288.73 L403.50,289.80 L404.20,288.52 L404.90,289.48 L405.60,291.14 L406.30,290.73 L407.00,291.38 L407.70,291.99 L408.40,294.33 L409.10,295.07 L409.80,295.57 L410.50,294.78 L411.20,297.30 L411.90,296.93 L412.60,296.90 L413.30,298.18 L414.00,298.79 L414.70,298.61 L415.40,300.57 L416.10,300.74 L416.80,301.98 L417.50,303.62 L418.20,303.62 L418.90,303.83 L419.60,305.87 L420.30,307.05 L421.00,306.57 L421.70,308.60 L422.40,307.03 L423.10,308.16 L423.80,308.95 L424.50,311.64 L425.20,311.70 L425.90,312.47 L426.60,312.05 L427.30,313.29 L428.00,315.01 L428.70,313.31 L429.40,313.70 L430.10,313.87 L430.80,315.32 L431.50,316.64 L432.20,316.24 L432.90,316.19 L433.60,316.81 L434.30,316.15 L435.00,318.12 L435.70,316.54 L436.40,316.20 L437.10,316.37 L437.80,317.67 L438.50,316.32 L439.20,317.82 L439.90,316.31 L440.60,316.55 L441.30,315.56 L442.00,317.70 L442.70,317.37 L443.40,316.51 L444.10,315.54 L444.80,316.49 L445.50,316.17 L446.20,317.36 L446.90,317.58 L447.60,317.08 L448.30,315.89 L449.00,315.24 L449.70,317.44 L450.40,317.56 L451.10,315.51 L451.80,316.38 L452.50,316.32 L453.20,317.60 L453.90,315.16 L454.60,315.19 L455.30,317.21 L456.00,316.49 L456.70,316.20 L457.40,317.01 L458.10,316.51 L458.80,316.76 L459.50,315.61 L460.20,315.16 L460.90,314.95 L461.60,315.78 L462.30,316.58 L463.00,315.87 L463.70,315.78 L464.40,316.47 L465.10,316.68 L465.80,316.39 L466.50,315.64 L467.20,316.95 L467.90,316.88 L468.60,317.11 L469.30,317.10 L470.00,314.80 L470.70,316.49 L471.40,315.65 L472.10,315.74 L472.80,316.06 L473.50,315.08" fill="none" stroke="#1e1e1e" stroke-width="1.05" stroke-linejoin="round"/>
<path d="M395.00,282.80 L395.70,282.80 L396.40,282.80 L397.10,282.80 L397.80,282.80 L398.50,282.80 L399.20,282.80 L399.90,282.80 L400.60,282.80 L401.30,282.80 L402.00,282.80 L402.70,282.80 L403.40,282.80 L404.10,282.80 L404.80,282.80 L405.50,282.80 L406.20,282.80 L406.90,282.80 L407.60,282.80 L408.30,282.80 L409.00,282.80 L409.70,282.80 L410.40,282.80 L411.10,282.80 L411.80,282.80 L412.50,282.80 L413.20,282.80 L413.90,282.80 L414.60,282.80 L415.30,282.80 L416.00,282.80 L416.70,282.80 L417.40,282.80 L418.10,282.80 L418.80,282.80 L419.50,282.80 L420.20,282.80 L420.90,282.80 L421.60,282.80 L422.30,282.80 L423.00,282.80 L423.70,282.80 L424.40,282.80 L425.10,282.80 L425.80,282.80 L426.50,282.80 L427.20,282.80 L427.90,282.80 L428.60,282.80 L429.30,282.80 L430.00,282.80 L430.70,283.00 L431.40,284.52 L432.10,285.94 L432.80,287.46 L433.50,288.89 L434.20,291.21 L434.90,291.41 L435.60,294.34 L436.30,293.66 L437.00,296.29 L437.70,297.25 L438.40,297.39 L439.10,300.40 L439.80,299.68 L440.50,302.24 L441.20,303.68 L441.90,301.99 L442.60,305.26 L443.30,305.93 L444.00,306.40 L444.70,305.08 L445.40,307.60 L446.10,309.20 L446.80,308.99 L447.50,309.61 L448.20,310.76 L448.90,311.41 L449.60,314.16 L450.30,313.41 L451.00,314.52 L451.70,316.15 L452.40,317.88 L453.10,315.99 L453.80,315.56 L454.50,319.37 L455.20,319.33 L455.90,319.65 L456.60,319.15 L457.30,318.58 L458.00,318.76 L458.70,319.47 L459.40,320.21 L460.10,318.96 L460.80,321.42 L461.50,321.70 L462.20,319.30 L462.90,322.46 L463.60,321.37 L464.30,323.08 L465.00,321.66 L465.70,322.99 L466.40,321.85 L467.10,322.44 L467.80,322.06 L468.50,320.36 L469.20,320.82 L469.90,321.16 L470.60,321.81 L471.30,321.70 L472.00,322.34 L472.70,322.79 L473.40,321.88 L474.10,321.62 L474.80,322.33 L475.50,323.94 L476.20,323.35 L476.90,322.92 L477.60,323.52 L478.30,321.42 L479.00,320.99 L479.70,320.98 L480.40,321.11 L481.10,320.73 L481.80,322.97 L482.50,324.05 L483.20,321.17 L483.90,323.26 L484.60,324.20 L485.30,323.59 L486.00,321.41 L486.70,323.18 L487.40,321.82 L488.10,321.57 L488.80,320.99 L489.50,322.86 L490.20,324.30 L490.90,321.39 L491.60,321.57 L492.30,322.46 L493.00,321.22 L493.70,322.78 L494.40,323.76 L495.10,322.81 L495.80,321.32 L496.50,321.31" fill="none" stroke="#8d3fae" stroke-width="1.05" stroke-linejoin="round"/>
<line x1="258.10" y1="268.50" x2="258.10" y2="353.50" stroke="#111" stroke-width="1.2"/>
<line x1="258.10" y1="353.50" x2="496.50" y2="353.50" stroke="#111" stroke-width="1.2"/>
<line x1="283.70" y1="353.50" x2="283.70" y2="356.00" stroke="#111" stroke-width="0.9"/>
<text x="283.70" y="366.30" font-size="7.8" fill="#222" text-anchor="middle">1</text>
<line x1="309.30" y1="353.50" x2="309.30" y2="356.00" stroke="#111" stroke-width="0.9"/>
<text x="309.30" y="366.30" font-size="7.8" fill="#222" text-anchor="middle">2</text>
<line x1="334.90" y1="353.50" x2="334.90" y2="356.00" stroke="#111" stroke-width="0.9"/>
<text x="334.90" y="366.30" font-size="7.8" fill="#222" text-anchor="middle">3</text>
<line x1="360.50" y1="353.50" x2="360.50" y2="356.00" stroke="#111" stroke-width="0.9"/>
<text x="360.50" y="366.30" font-size="7.8" fill="#222" text-anchor="middle">4</text>
<line x1="386.10" y1="353.50" x2="386.10" y2="356.00" stroke="#111" stroke-width="0.9"/>
<text x="386.10" y="366.30" font-size="7.8" fill="#222" text-anchor="middle">5</text>
<line x1="411.70" y1="353.50" x2="411.70" y2="356.00" stroke="#111" stroke-width="0.9"/>
<text x="411.70" y="366.30" font-size="7.8" fill="#222" text-anchor="middle">6</text>
<line x1="437.30" y1="353.50" x2="437.30" y2="356.00" stroke="#111" stroke-width="0.9"/>
<text x="437.30" y="366.30" font-size="7.8" fill="#222" text-anchor="middle">7</text>
<line x1="462.90" y1="353.50" x2="462.90" y2="356.00" stroke="#111" stroke-width="0.9"/>
<text x="462.90" y="366.30" font-size="7.8" fill="#222" text-anchor="middle">8</text>
<line x1="488.50" y1="353.50" x2="488.50" y2="356.00" stroke="#111" stroke-width="0.9"/>
<text x="488.50" y="366.30" font-size="7.8" fill="#222" text-anchor="middle">9</text>
<text x="496.30" y="366.30" font-size="7.8" fill="#333" textLength="10.80" lengthAdjust="spacingAndGlyphs">min</text>
<text x="329.40" y="277.85" font-size="5.8" fill="#111" text-anchor="middle" font-weight="bold">-10</text>
<text x="329.40" y="284.90" font-size="5.8" fill="#111" text-anchor="middle" font-weight="bold">0</text>
<text x="329.40" y="291.95" font-size="5.8" fill="#111" text-anchor="middle" font-weight="bold">10</text>
<text x="329.40" y="299.00" font-size="5.8" fill="#111" text-anchor="middle" font-weight="bold">20</text>
<text x="329.40" y="306.05" font-size="5.8" fill="#111" text-anchor="middle" font-weight="bold">30</text>
<text x="329.40" y="313.10" font-size="5.8" fill="#111" text-anchor="middle" font-weight="bold">40</text>
<text x="329.40" y="320.15" font-size="5.8" fill="#111" text-anchor="middle" font-weight="bold">50</text>
<text x="329.40" y="327.20" font-size="5.8" fill="#111" text-anchor="middle" font-weight="bold">60</text>
<text x="329.40" y="334.25" font-size="5.8" fill="#111" text-anchor="middle" font-weight="bold">70</text>
<text x="329.40" y="341.30" font-size="5.8" fill="#111" text-anchor="middle" font-weight="bold">80</text>
<text x="329.40" y="348.35" font-size="5.8" fill="#111" text-anchor="middle" font-weight="bold">90</text>
<text x="433.80" y="277.85" font-size="5.8" fill="#111" text-anchor="middle" font-weight="bold">-10</text>
<text x="433.80" y="284.90" font-size="5.8" fill="#111" text-anchor="middle" font-weight="bold">0</text>
<text x="433.80" y="291.95" font-size="5.8" fill="#111" text-anchor="middle" font-weight="bold">10</text>
<text x="433.80" y="299.00" font-size="5.8" fill="#111" text-anchor="middle" font-weight="bold">20</text>
<text x="433.80" y="306.05" font-size="5.8" fill="#111" text-anchor="middle" font-weight="bold">30</text>
<text x="433.80" y="313.10" font-size="5.8" fill="#111" text-anchor="middle" font-weight="bold">40</text>
<text x="433.80" y="320.15" font-size="5.8" fill="#111" text-anchor="middle" font-weight="bold">50</text>
<text x="433.80" y="327.20" font-size="5.8" fill="#111" text-anchor="middle" font-weight="bold">60</text>
<text x="433.80" y="334.25" font-size="5.8" fill="#111" text-anchor="middle" font-weight="bold">70</text>
<text x="433.80" y="341.30" font-size="5.8" fill="#111" text-anchor="middle" font-weight="bold">80</text>
<text x="433.80" y="348.35" font-size="5.8" fill="#111" text-anchor="middle" font-weight="bold">90</text>
<text x="266.20" y="279.50" font-size="5.5" fill="#e03434" text-anchor="middle" font-weight="bold">1</text>
<text x="268.50" y="277.80" font-size="6.5" fill="#e03434" text-anchor="middle" font-weight="bold">*</text>
<text x="291.70" y="279.50" font-size="5.5" fill="#2f9c3f" text-anchor="middle" font-weight="bold">2</text>
<text x="298.20" y="276.80" font-size="6.5" fill="#2f9c3f" text-anchor="middle" font-weight="bold">*</text>
<text x="317.30" y="279.50" font-size="5.5" fill="#4a42a4" text-anchor="middle" font-weight="bold">3</text>
<text x="328.00" y="274.80" font-size="6.5" fill="#4a42a4" text-anchor="middle" font-weight="bold">*</text>
<text x="343.00" y="279.50" font-size="5.5" fill="#4a42a4" text-anchor="middle" font-weight="bold">4</text>
<text x="369.00" y="279.50" font-size="5.5" fill="#1e1e1e" text-anchor="middle" font-weight="bold">5</text>
<text x="364.00" y="276.80" font-size="6.5" fill="#1e1e1e" text-anchor="middle" font-weight="bold">*</text>
<text x="397.00" y="279.50" font-size="5.5" fill="#1e1e1e" text-anchor="middle" font-weight="bold">6</text>
<text x="430.00" y="276.80" font-size="6.5" fill="#8d3fae" text-anchor="middle" font-weight="bold">*</text>
<text x="326.00" y="312.00" font-size="5.5" fill="#2f9c3f" text-anchor="middle" font-weight="bold">2</text>
<text x="361.00" y="297.00" font-size="5.5" fill="#4a42a4" text-anchor="middle" font-weight="bold">3</text>
<text x="424.50" y="306.00" font-size="5.5" fill="#1e1e1e" text-anchor="middle" font-weight="bold">3</text>
<text x="441.00" y="300.00" font-size="5.5" fill="#8d3fae" text-anchor="middle" font-weight="bold">6</text>
<text x="458.00" y="313.00" font-size="5.5" fill="#1e1e1e" text-anchor="middle" font-weight="bold">5</text>
<line x1="22.30" y1="270.00" x2="22.30" y2="347.00" stroke="#111" stroke-width="1.1"/>
<path d="M19.5,345.5 L25.1,345.5 L22.3,352 Z" fill="#111"/>
<text x="35.60" y="336.60" font-size="8.6" fill="#222" transform="rotate(-90 35.60 336.60)" textLength="51.80" lengthAdjust="spacingAndGlyphs">% Light transmission</text>
<text x="52.50" y="263.90" font-size="8.3" fill="#d23c3c" transform="rotate(-45 52.50 263.90)" textLength="17.14" lengthAdjust="spacingAndGlyphs">1- T6</text>
<text x="72.80" y="263.90" font-size="8.3" fill="#3f9e48" transform="rotate(-45 72.80 263.90)" textLength="55.74" lengthAdjust="spacingAndGlyphs">2- T6 + 2.5 µM D</text>
<text x="95.00" y="263.90" font-size="8.3" fill="#5550a8" transform="rotate(-45 95.00 263.90)" textLength="49.57" lengthAdjust="spacingAndGlyphs">3- T6 + 5 µM D</text>
<text x="118.00" y="263.90" font-size="8.3" fill="#5550a8" transform="rotate(-45 118.00 263.90)" textLength="19.60" lengthAdjust="spacingAndGlyphs">4- Thr</text>
<text x="135.00" y="263.90" font-size="8.3" fill="#1e1e1e" transform="rotate(-45 135.00 263.90)" textLength="58.20" lengthAdjust="spacingAndGlyphs">5- Thr + 2.5 µM D</text>
<text x="155.00" y="263.90" font-size="8.3" fill="#9a46b2" transform="rotate(-45 155.00 263.90)" textLength="52.03" lengthAdjust="spacingAndGlyphs">6- Thr + 5 µM D</text>
<text x="272.50" y="263.90" font-size="8.3" fill="#d23c3c" transform="rotate(-45 272.50 263.90)" textLength="37.84" lengthAdjust="spacingAndGlyphs">1- Collagen</text>
<text x="298.00" y="263.90" font-size="8.3" fill="#3f9e48" transform="rotate(-45 298.00 263.90)" textLength="76.45" lengthAdjust="spacingAndGlyphs">2- Collagen + 2.5 µM D</text>
<text x="324.80" y="263.90" font-size="8.3" fill="#5550a8" transform="rotate(-45 324.80 263.90)" textLength="70.28" lengthAdjust="spacingAndGlyphs">3- Collagen + 5 µM D</text>
<text x="350.50" y="263.90" font-size="8.3" fill="#5550a8" transform="rotate(-45 350.50 263.90)" textLength="23.84" lengthAdjust="spacingAndGlyphs">4- vWF</text>
<text x="372.80" y="263.90" font-size="8.3" fill="#1e1e1e" transform="rotate(-45 372.80 263.90)" textLength="62.44" lengthAdjust="spacingAndGlyphs">5- vWF + 2.5 µM D</text>
<text x="398.20" y="263.90" font-size="8.3" fill="#9a46b2" transform="rotate(-45 398.20 263.90)" textLength="56.27" lengthAdjust="spacingAndGlyphs">6- vWF + 5 µM D</text>
<text x="37.80" y="391.40" font-size="10.3" fill="#111" font-weight="bold" stroke="#111" stroke-width="0.35">D</text>
<rect x="80.10" y="458.84" width="20.00" height="47.46" fill="#38a7df"/>
<line x1="90.10" y1="452.20" x2="90.10" y2="466.00" stroke="#111" stroke-width="1"/>
<line x1="85.30" y1="452.20" x2="94.90" y2="452.20" stroke="#111" stroke-width="1.1"/>
<rect x="88.50" y="443.80" width="3.20" height="3.20" fill="#111"/>
<circle cx="86.70" cy="455.30" r="1.70" fill="#111"/>
<circle cx="93.30" cy="455.30" r="1.70" fill="#111"/>
<circle cx="86.70" cy="460.00" r="1.70" fill="#111"/>
<circle cx="89.70" cy="459.50" r="1.70" fill="#111"/>
<circle cx="93.30" cy="460.00" r="1.70" fill="#111"/>
<circle cx="90.40" cy="463.60" r="1.70" fill="#111"/>
<circle cx="88.90" cy="467.20" r="1.70" fill="#111"/>
<line x1="90.10" y1="506.30" x2="90.10" y2="508.90" stroke="#3a3a3a" stroke-width="1"/>
<text x="90.60" y="517.50" font-size="7.3" fill="#222" text-anchor="end" transform="rotate(-45 90.60 517.50)">Fibrinogen</text>
<rect x="110.28" y="488.97" width="20.00" height="17.33" fill="#38a7df"/>
<line x1="120.28" y1="481.10" x2="120.28" y2="497.00" stroke="#111" stroke-width="1"/>
<line x1="115.48" y1="481.10" x2="125.08" y2="481.10" stroke="#111" stroke-width="1.1"/>
<rect x="118.68" y="473.50" width="3.20" height="3.20" fill="#111"/>
<circle cx="120.28" cy="481.50" r="1.70" fill="#111"/>
<circle cx="120.28" cy="485.60" r="1.70" fill="#111"/>
<circle cx="116.38" cy="489.60" r="1.70" fill="#111"/>
<circle cx="123.88" cy="489.60" r="1.70" fill="#111"/>
<circle cx="116.38" cy="495.50" r="1.70" fill="#111"/>
<circle cx="120.28" cy="496.50" r="1.70" fill="#111"/>
<circle cx="123.88" cy="495.50" r="1.70" fill="#111"/>
<line x1="120.28" y1="506.30" x2="120.28" y2="508.90" stroke="#3a3a3a" stroke-width="1"/>
<text x="120.78" y="517.50" font-size="7.3" fill="#222" text-anchor="end" transform="rotate(-45 120.78 517.50)">+ Degrasyn</text>
<rect x="140.46" y="439.63" width="20.00" height="66.67" fill="#4b5a70"/>
<line x1="150.46" y1="424.80" x2="150.46" y2="455.00" stroke="#111" stroke-width="1"/>
<line x1="145.66" y1="424.80" x2="155.26" y2="424.80" stroke="#111" stroke-width="1.1"/>
<circle cx="146.66" cy="421.60" r="1.70" fill="#111"/>
<circle cx="150.46" cy="423.00" r="1.70" fill="#111"/>
<circle cx="154.16" cy="421.60" r="1.70" fill="#111"/>
<circle cx="146.66" cy="440.00" r="1.70" fill="#111"/>
<circle cx="154.16" cy="440.00" r="1.70" fill="#111"/>
<circle cx="150.46" cy="444.00" r="1.70" fill="#111"/>
<circle cx="146.66" cy="454.50" r="1.70" fill="#111"/>
<circle cx="150.46" cy="455.50" r="1.70" fill="#111"/>
<circle cx="154.16" cy="454.50" r="1.70" fill="#111"/>
<line x1="150.46" y1="506.30" x2="150.46" y2="508.90" stroke="#3a3a3a" stroke-width="1"/>
<text x="150.96" y="517.50" font-size="7.3" fill="#222" text-anchor="end" transform="rotate(-45 150.96 517.50)">vWF</text>
<rect x="170.64" y="485.96" width="20.00" height="20.34" fill="#4b5a70"/>
<line x1="180.64" y1="474.90" x2="180.64" y2="499.00" stroke="#111" stroke-width="1"/>
<line x1="175.84" y1="474.90" x2="185.44" y2="474.90" stroke="#111" stroke-width="1.1"/>
<circle cx="180.64" cy="472.00" r="1.70" fill="#111"/>
<circle cx="177.54" cy="476.00" r="1.70" fill="#111"/>
<circle cx="183.04" cy="474.50" r="1.70" fill="#111"/>
<circle cx="184.04" cy="483.00" r="1.70" fill="#111"/>
<circle cx="178.04" cy="486.50" r="1.70" fill="#111"/>
<circle cx="183.04" cy="486.50" r="1.70" fill="#111"/>
<circle cx="178.04" cy="497.00" r="1.70" fill="#111"/>
<circle cx="180.64" cy="499.00" r="1.70" fill="#111"/>
<circle cx="183.54" cy="497.50" r="1.70" fill="#111"/>
<line x1="180.64" y1="506.30" x2="180.64" y2="508.90" stroke="#3a3a3a" stroke-width="1"/>
<text x="181.14" y="517.50" font-size="7.3" fill="#222" text-anchor="end" transform="rotate(-45 181.14 517.50)">+ Degrasyn</text>
<rect x="200.82" y="445.28" width="20.00" height="61.02" fill="#c7c7cb"/>
<line x1="210.82" y1="429.60" x2="210.82" y2="461.00" stroke="#111" stroke-width="1"/>
<line x1="206.02" y1="429.60" x2="215.62" y2="429.60" stroke="#111" stroke-width="1.1"/>
<circle cx="209.52" cy="424.50" r="1.70" fill="#111"/>
<circle cx="213.02" cy="425.00" r="1.70" fill="#111"/>
<circle cx="210.82" cy="444.00" r="1.70" fill="#111"/>
<circle cx="209.02" cy="452.50" r="1.70" fill="#111"/>
<circle cx="212.52" cy="450.00" r="1.70" fill="#111"/>
<circle cx="211.02" cy="457.00" r="1.70" fill="#111"/>
<circle cx="207.52" cy="461.00" r="1.70" fill="#111"/>
<circle cx="213.52" cy="460.00" r="1.70" fill="#111"/>
<circle cx="210.82" cy="463.00" r="1.70" fill="#111"/>
<line x1="210.82" y1="506.30" x2="210.82" y2="508.90" stroke="#3a3a3a" stroke-width="1"/>
<text x="211.32" y="517.50" font-size="7.3" fill="#222" text-anchor="end" transform="rotate(-45 211.32 517.50)">Collagen</text>
<rect x="231.00" y="467.88" width="20.00" height="38.42" fill="#c7c7cb"/>
<line x1="241.00" y1="457.00" x2="241.00" y2="477.00" stroke="#111" stroke-width="1"/>
<line x1="236.20" y1="457.00" x2="245.80" y2="457.00" stroke="#111" stroke-width="1.1"/>
<circle cx="240.30" cy="451.50" r="1.70" fill="#111"/>
<circle cx="242.30" cy="455.00" r="1.70" fill="#111"/>
<circle cx="239.80" cy="458.00" r="1.70" fill="#111"/>
<circle cx="241.00" cy="468.00" r="1.70" fill="#111"/>
<circle cx="234.30" cy="474.00" r="1.70" fill="#111"/>
<circle cx="238.30" cy="477.00" r="1.70" fill="#111"/>
<circle cx="241.30" cy="477.50" r="1.70" fill="#111"/>
<circle cx="244.80" cy="477.00" r="1.70" fill="#111"/>
<circle cx="248.30" cy="475.50" r="1.70" fill="#111"/>
<line x1="241.00" y1="506.30" x2="241.00" y2="508.90" stroke="#3a3a3a" stroke-width="1"/>
<text x="241.50" y="517.50" font-size="7.3" fill="#222" text-anchor="end" transform="rotate(-45 241.50 517.50)">+ Degrasyn</text>
<line x1="74.60" y1="392.50" x2="74.60" y2="506.30" stroke="#3a3a3a" stroke-width="1.3"/>
<line x1="74.60" y1="506.30" x2="256.00" y2="506.30" stroke="#3a3a3a" stroke-width="1.3"/>
<line x1="72.30" y1="506.30" x2="74.60" y2="506.30" stroke="#3a3a3a" stroke-width="1"/>
<text x="69.00" y="509.00" font-size="7.5" fill="#333" text-anchor="end" textLength="9.70" lengthAdjust="spacingAndGlyphs">0.0</text>
<line x1="72.30" y1="468.63" x2="74.60" y2="468.63" stroke="#3a3a3a" stroke-width="1"/>
<text x="69.00" y="471.33" font-size="7.5" fill="#333" text-anchor="end" textLength="9.70" lengthAdjust="spacingAndGlyphs">0.5</text>
<line x1="72.30" y1="430.97" x2="74.60" y2="430.97" stroke="#3a3a3a" stroke-width="1"/>
<text x="69.00" y="433.67" font-size="7.5" fill="#333" text-anchor="end" textLength="9.70" lengthAdjust="spacingAndGlyphs">1.0</text>
<line x1="72.30" y1="393.31" x2="74.60" y2="393.31" stroke="#3a3a3a" stroke-width="1"/>
<text x="69.00" y="396.00" font-size="7.5" fill="#333" text-anchor="end" textLength="9.70" lengthAdjust="spacingAndGlyphs">1.5</text>
<text x="53.60" y="470.80" font-size="8.6" fill="#222" transform="rotate(-90 53.60 470.80)" textLength="42.80" lengthAdjust="spacingAndGlyphs">Adhesion (O.D.)</text>
<path d="M91.30,440.20 V437.80 H118.70 V440.20" fill="none" stroke="#333" stroke-width="0.9"/>
<text x="105.00" y="437.40" font-size="7" fill="#222" text-anchor="middle" font-weight="bold">****</text>
<path d="M149.90,412.00 V409.60 H177.00 V412.00" fill="none" stroke="#333" stroke-width="0.9"/>
<text x="163.45" y="409.40" font-size="7" fill="#222" text-anchor="middle" font-weight="bold">****</text>
<path d="M213.20,412.00 V409.60 H240.50 V412.00" fill="none" stroke="#333" stroke-width="0.9"/>
<text x="226.85" y="409.60" font-size="7" fill="#222" text-anchor="middle" font-weight="bold">**</text>
<text x="270.80" y="391.50" font-size="10.3" fill="#111" font-weight="bold" stroke="#111" stroke-width="0.35">E</text>
<rect x="285.10" y="404.90" width="95.10" height="100.10" fill="#060606"/>
<rect x="386.70" y="404.90" width="95.50" height="100.50" fill="#060606"/>
<text x="320.80" y="399.50" font-size="7.3" fill="#222" textLength="23.80" lengthAdjust="spacingAndGlyphs">Control</text>
<text x="407.20" y="399.50" font-size="7.3" fill="#222" textLength="54.60" lengthAdjust="spacingAndGlyphs">Degrasyn (5 µM)</text>
<text x="346.60" y="515.40" font-size="7.3" fill="#222" textLength="74.70" lengthAdjust="spacingAndGlyphs">Fibrinogen (100 µg/ml)</text>
<line x1="363.20" y1="499.40" x2="378.50" y2="499.40" stroke="#f0f0f0" stroke-width="1.2"/>
<text x="370.80" y="503.30" font-size="2.6" fill="#bbb" text-anchor="middle">10 µm</text>
<ellipse cx="413.3" cy="414.1" rx="2" ry="1.80" fill="#fff"/>
<ellipse cx="407.6" cy="415.8" rx="1" ry="0.90" fill="#fff"/>
<ellipse cx="464.8" cy="420.8" rx="2" ry="1.80" fill="#fff"/>
<ellipse cx="461.4" cy="438" rx="1.7" ry="1.53" fill="#fff"/>
<ellipse cx="436.5" cy="459.6" rx="1.7" ry="1.53" fill="#fff"/>
<ellipse cx="401.8" cy="466.6" rx="2.2" ry="1.98" fill="#fff"/>
<ellipse cx="421" cy="495.9" rx="2.2" ry="1.98" fill="#fff"/>
<ellipse cx="466.2" cy="493.5" rx="1.5" ry="1.35" fill="#fff"/>
<circle cx="296.50" cy="438.50" r="4.27" fill="#202020"/>
<circle cx="298.72" cy="441.39" r="0.61" fill="rgb(139,139,139)"/>
<circle cx="292.36" cy="440.34" r="0.54" fill="rgb(86,86,86)"/>
<circle cx="299.69" cy="440.26" r="0.68" fill="rgb(199,199,199)"/>
<circle cx="294.83" cy="441.31" r="0.62" fill="rgb(153,153,153)"/>
<circle cx="297.34" cy="441.31" r="0.57" fill="rgb(143,143,143)"/>
<circle cx="299.44" cy="437.81" r="0.68" fill="rgb(158,158,158)"/>
<circle cx="292.00" cy="436.87" r="0.58" fill="rgb(140,140,140)"/>
<circle cx="298.27" cy="440.25" r="0.49" fill="rgb(116,116,116)"/>
<circle cx="297.08" cy="434.62" r="0.67" fill="rgb(153,153,153)"/>
<circle cx="296.79" cy="442.11" r="0.57" fill="rgb(186,186,186)"/>
<circle cx="298.79" cy="436.89" r="0.56" fill="rgb(60,60,60)"/>
<circle cx="295.59" cy="434.13" r="0.53" fill="rgb(106,106,106)"/>
<circle cx="295.51" cy="442.36" r="0.65" fill="rgb(105,105,105)"/>
<circle cx="294.08" cy="441.32" r="0.62" fill="rgb(128,128,128)"/>
<circle cx="298.36" cy="434.12" r="0.65" fill="rgb(119,119,119)"/>
<circle cx="300.13" cy="436.18" r="0.62" fill="rgb(114,114,114)"/>
<circle cx="292.77" cy="438.18" r="0.59" fill="rgb(118,118,118)"/>
<circle cx="298.37" cy="436.28" r="0.61" fill="rgb(124,124,124)"/>
<circle cx="295.74" cy="435.82" r="0.43" fill="rgb(171,171,171)"/>
<circle cx="295.01" cy="442.28" r="0.58" fill="rgb(145,145,145)"/>
<circle cx="296.47" cy="434.57" r="0.39" fill="rgb(130,130,130)"/>
<circle cx="297.84" cy="442.08" r="0.60" fill="rgb(137,137,137)"/>
<circle cx="297.38" cy="441.86" r="0.60" fill="rgb(160,160,160)"/>
<circle cx="293.44" cy="435.68" r="0.52" fill="rgb(121,121,121)"/>
<circle cx="292.40" cy="437.31" r="0.66" fill="rgb(161,161,161)"/>
<circle cx="299.35" cy="439.37" r="0.44" fill="rgb(178,178,178)"/>
<circle cx="298.85" cy="440.08" r="0.37" fill="rgb(123,123,123)"/>
<circle cx="299.81" cy="437.33" r="0.54" fill="rgb(121,121,121)"/>
<circle cx="293.19" cy="439.04" r="0.55" fill="rgb(114,114,114)"/>
<circle cx="296.48" cy="441.35" r="0.42" fill="rgb(138,138,138)"/>
<circle cx="292.35" cy="441.03" r="0.49" fill="rgb(64,64,64)"/>
<circle cx="296.22" cy="442.79" r="0.42" fill="rgb(84,84,84)"/>
<circle cx="297.20" cy="438.49" r="0.50" fill="rgb(102,102,102)"/>
<circle cx="296.43" cy="438.98" r="0.50" fill="rgb(102,102,102)"/>
<circle cx="295.93" cy="440.09" r="0.50" fill="rgb(102,102,102)"/>
<circle cx="309.70" cy="450.80" r="3.61" fill="#202020"/>
<circle cx="307.51" cy="449.57" r="0.51" fill="rgb(225,225,225)"/>
<circle cx="308.38" cy="448.61" r="0.43" fill="rgb(154,154,154)"/>
<circle cx="308.84" cy="454.29" r="0.37" fill="rgb(187,187,187)"/>
<circle cx="310.50" cy="452.94" r="0.62" fill="rgb(225,225,225)"/>
<circle cx="307.62" cy="453.11" r="0.49" fill="rgb(149,149,149)"/>
<circle cx="310.48" cy="453.72" r="0.46" fill="rgb(206,206,206)"/>
<circle cx="312.67" cy="453.28" r="0.66" fill="rgb(150,150,150)"/>
<circle cx="307.40" cy="452.59" r="0.50" fill="rgb(128,128,128)"/>
<circle cx="306.78" cy="452.80" r="0.54" fill="rgb(202,202,202)"/>
<circle cx="308.49" cy="452.56" r="0.60" fill="rgb(170,170,170)"/>
<circle cx="313.01" cy="451.00" r="0.41" fill="rgb(173,173,173)"/>
<circle cx="311.91" cy="451.77" r="0.59" fill="rgb(175,175,175)"/>
<circle cx="309.31" cy="447.95" r="0.52" fill="rgb(149,149,149)"/>
<circle cx="311.67" cy="448.86" r="0.65" fill="rgb(141,141,141)"/>
<circle cx="308.41" cy="447.47" r="0.36" fill="rgb(181,181,181)"/>
<circle cx="307.36" cy="454.21" r="0.66" fill="rgb(169,169,169)"/>
<circle cx="310.94" cy="448.81" r="0.63" fill="rgb(154,154,154)"/>
<circle cx="310.33" cy="448.49" r="0.41" fill="rgb(119,119,119)"/>
<circle cx="310.67" cy="447.24" r="0.66" fill="rgb(194,194,194)"/>
<circle cx="312.37" cy="454.00" r="0.66" fill="rgb(148,148,148)"/>
<circle cx="308.53" cy="452.71" r="0.47" fill="rgb(125,125,125)"/>
<circle cx="312.22" cy="451.75" r="0.64" fill="rgb(155,155,155)"/>
<circle cx="313.17" cy="453.02" r="0.39" fill="rgb(168,168,168)"/>
<circle cx="313.71" cy="450.32" r="0.46" fill="rgb(189,189,189)"/>
<circle cx="312.59" cy="452.78" r="0.57" fill="rgb(172,172,172)"/>
<circle cx="311.62" cy="448.38" r="0.55" fill="rgb(165,165,165)"/>
<circle cx="310.57" cy="448.34" r="0.54" fill="rgb(162,162,162)"/>
<circle cx="306.95" cy="450.18" r="0.68" fill="rgb(212,212,212)"/>
<circle cx="308.85" cy="454.26" r="0.37" fill="rgb(192,192,192)"/>
<circle cx="309.72" cy="450.90" r="0.50" fill="rgb(126,126,126)"/>
<circle cx="309.81" cy="450.95" r="0.50" fill="rgb(126,126,126)"/>
<circle cx="309.39" cy="451.27" r="0.50" fill="rgb(126,126,126)"/>
<circle cx="344.40" cy="412.50" r="3.32" fill="#202020"/>
<circle cx="346.28" cy="415.03" r="0.56" fill="rgb(161,161,161)"/>
<circle cx="342.04" cy="414.60" r="0.55" fill="rgb(180,180,180)"/>
<circle cx="347.27" cy="413.30" r="0.66" fill="rgb(112,112,112)"/>
<circle cx="344.15" cy="409.83" r="0.43" fill="rgb(114,114,114)"/>
<circle cx="346.86" cy="415.05" r="0.50" fill="rgb(123,123,123)"/>
<circle cx="342.03" cy="412.48" r="0.54" fill="rgb(100,100,100)"/>
<circle cx="346.33" cy="415.00" r="0.44" fill="rgb(108,108,108)"/>
<circle cx="346.57" cy="413.91" r="0.59" fill="rgb(106,106,106)"/>
<circle cx="340.99" cy="412.29" r="0.67" fill="rgb(111,111,111)"/>
<circle cx="345.56" cy="414.53" r="0.56" fill="rgb(151,151,151)"/>
<circle cx="342.51" cy="410.45" r="0.58" fill="rgb(108,108,108)"/>
<circle cx="347.13" cy="410.20" r="0.57" fill="rgb(127,127,127)"/>
<circle cx="340.65" cy="413.21" r="0.65" fill="rgb(99,99,99)"/>
<circle cx="343.30" cy="410.03" r="0.61" fill="rgb(152,152,152)"/>
<circle cx="341.37" cy="410.29" r="0.69" fill="rgb(112,112,112)"/>
<circle cx="341.72" cy="412.03" r="0.68" fill="rgb(113,113,113)"/>
<circle cx="346.53" cy="411.72" r="0.66" fill="rgb(192,192,192)"/>
<circle cx="342.58" cy="414.12" r="0.59" fill="rgb(165,165,165)"/>
<circle cx="346.59" cy="411.64" r="0.43" fill="rgb(97,97,97)"/>
<circle cx="342.50" cy="413.63" r="0.52" fill="rgb(153,153,153)"/>
<circle cx="344.66" cy="414.57" r="0.39" fill="rgb(125,125,125)"/>
<circle cx="346.01" cy="414.74" r="0.46" fill="rgb(149,149,149)"/>
<circle cx="344.03" cy="409.77" r="0.45" fill="rgb(139,139,139)"/>
<circle cx="344.30" cy="410.18" r="0.51" fill="rgb(158,158,158)"/>
<circle cx="345.65" cy="409.14" r="0.57" fill="rgb(82,82,82)"/>
<circle cx="344.71" cy="414.59" r="0.41" fill="rgb(152,152,152)"/>
<circle cx="345.07" cy="409.88" r="0.67" fill="rgb(180,180,180)"/>
<circle cx="344.39" cy="412.50" r="0.50" fill="rgb(106,106,106)"/>
<circle cx="344.35" cy="412.80" r="0.50" fill="rgb(106,106,106)"/>
<circle cx="343.82" cy="411.71" r="0.50" fill="rgb(106,106,106)"/>
<circle cx="356.40" cy="408.20" r="2.66" fill="#202020"/>
<circle cx="358.65" cy="407.90" r="0.43" fill="rgb(135,135,135)"/>
<circle cx="358.61" cy="409.38" r="0.39" fill="rgb(97,97,97)"/>
<circle cx="354.21" cy="410.20" r="0.38" fill="rgb(155,155,155)"/>
<circle cx="356.89" cy="411.02" r="0.36" fill="rgb(134,134,134)"/>
<circle cx="356.67" cy="409.89" r="0.41" fill="rgb(170,170,170)"/>
<circle cx="354.12" cy="409.66" r="0.60" fill="rgb(171,171,171)"/>
<circle cx="353.99" cy="409.62" r="0.44" fill="rgb(94,94,94)"/>
<circle cx="354.72" cy="410.01" r="0.68" fill="rgb(120,120,120)"/>
<circle cx="354.71" cy="406.64" r="0.43" fill="rgb(144,144,144)"/>
<circle cx="359.34" cy="407.95" r="0.66" fill="rgb(169,169,169)"/>
<circle cx="353.77" cy="407.72" r="0.40" fill="rgb(135,135,135)"/>
<circle cx="354.70" cy="409.13" r="0.38" fill="rgb(177,177,177)"/>
<circle cx="357.88" cy="407.38" r="0.38" fill="rgb(162,162,162)"/>
<circle cx="353.28" cy="408.49" r="0.70" fill="rgb(102,102,102)"/>
<circle cx="353.84" cy="407.13" r="0.54" fill="rgb(138,138,138)"/>
<circle cx="354.62" cy="406.96" r="0.64" fill="rgb(120,120,120)"/>
<circle cx="353.83" cy="409.14" r="0.37" fill="rgb(174,174,174)"/>
<circle cx="354.63" cy="405.86" r="0.54" fill="rgb(157,157,157)"/>
<circle cx="354.08" cy="407.19" r="0.55" fill="rgb(148,148,148)"/>
<circle cx="355.10" cy="406.49" r="0.52" fill="rgb(174,174,174)"/>
<circle cx="355.22" cy="410.32" r="0.59" fill="rgb(133,133,133)"/>
<circle cx="357.80" cy="406.25" r="0.69" fill="rgb(121,121,121)"/>
<circle cx="355.30" cy="411.00" r="0.64" fill="rgb(156,156,156)"/>
<circle cx="358.87" cy="408.71" r="0.65" fill="rgb(170,170,170)"/>
<circle cx="357.12" cy="407.94" r="0.50" fill="rgb(110,110,110)"/>
<circle cx="356.19" cy="408.51" r="0.50" fill="rgb(110,110,110)"/>
<circle cx="356.35" cy="408.15" r="0.50" fill="rgb(110,110,110)"/>
<circle cx="365.60" cy="441.80" r="3.99" fill="#202020"/>
<circle cx="369.86" cy="440.71" r="0.47" fill="rgb(154,154,154)"/>
<circle cx="364.64" cy="437.67" r="0.36" fill="rgb(135,135,135)"/>
<circle cx="367.83" cy="445.66" r="0.47" fill="rgb(189,189,189)"/>
<circle cx="362.93" cy="438.34" r="0.55" fill="rgb(186,186,186)"/>
<circle cx="363.21" cy="443.75" r="0.49" fill="rgb(126,126,126)"/>
<circle cx="362.09" cy="442.55" r="0.44" fill="rgb(127,127,127)"/>
<circle cx="367.17" cy="445.12" r="0.63" fill="rgb(189,189,189)"/>
<circle cx="366.97" cy="439.23" r="0.50" fill="rgb(180,180,180)"/>
<circle cx="368.39" cy="440.34" r="0.64" fill="rgb(177,177,177)"/>
<circle cx="369.38" cy="442.79" r="0.63" fill="rgb(155,155,155)"/>
<circle cx="361.95" cy="440.67" r="0.41" fill="rgb(225,225,225)"/>
<circle cx="363.22" cy="441.46" r="0.48" fill="rgb(105,105,105)"/>
<circle cx="367.25" cy="443.93" r="0.40" fill="rgb(148,148,148)"/>
<circle cx="369.85" cy="442.06" r="0.44" fill="rgb(148,148,148)"/>
<circle cx="369.01" cy="443.47" r="0.54" fill="rgb(148,148,148)"/>
<circle cx="361.66" cy="440.93" r="0.46" fill="rgb(115,115,115)"/>
<circle cx="367.78" cy="438.48" r="0.64" fill="rgb(196,196,196)"/>
<circle cx="362.07" cy="441.37" r="0.61" fill="rgb(107,107,107)"/>
<circle cx="363.51" cy="440.67" r="0.52" fill="rgb(174,174,174)"/>
<circle cx="363.18" cy="442.55" r="0.55" fill="rgb(147,147,147)"/>
<circle cx="362.01" cy="439.51" r="0.55" fill="rgb(137,137,137)"/>
<circle cx="369.31" cy="440.83" r="0.65" fill="rgb(140,140,140)"/>
<circle cx="369.55" cy="442.08" r="0.47" fill="rgb(161,161,161)"/>
<circle cx="366.70" cy="444.06" r="0.42" fill="rgb(174,174,174)"/>
<circle cx="365.96" cy="444.69" r="0.42" fill="rgb(160,160,160)"/>
<circle cx="368.92" cy="442.99" r="0.43" fill="rgb(145,145,145)"/>
<circle cx="362.77" cy="441.25" r="0.38" fill="rgb(168,168,168)"/>
<circle cx="368.34" cy="439.37" r="0.49" fill="rgb(189,189,189)"/>
<circle cx="361.24" cy="440.39" r="0.43" fill="rgb(126,126,126)"/>
<circle cx="362.56" cy="444.64" r="0.56" fill="rgb(158,158,158)"/>
<circle cx="364.88" cy="446.20" r="0.62" fill="rgb(175,175,175)"/>
<circle cx="366.26" cy="441.41" r="0.50" fill="rgb(118,118,118)"/>
<circle cx="366.54" cy="441.87" r="0.50" fill="rgb(118,118,118)"/>
<circle cx="365.56" cy="441.82" r="0.50" fill="rgb(118,118,118)"/>
<circle cx="340.60" cy="433.70" r="1.90" fill="#202020"/>
<circle cx="341.68" cy="432.66" r="0.46" fill="rgb(175,175,175)"/>
<circle cx="340.77" cy="432.23" r="0.41" fill="rgb(85,85,85)"/>
<circle cx="339.47" cy="435.29" r="0.47" fill="rgb(183,183,183)"/>
<circle cx="341.37" cy="435.09" r="0.49" fill="rgb(192,192,192)"/>
<circle cx="338.56" cy="434.22" r="0.70" fill="rgb(175,175,175)"/>
<circle cx="338.93" cy="432.28" r="0.64" fill="rgb(146,146,146)"/>
<circle cx="339.23" cy="433.48" r="0.57" fill="rgb(225,225,225)"/>
<circle cx="342.12" cy="435.06" r="0.62" fill="rgb(108,108,108)"/>
<circle cx="342.21" cy="432.18" r="0.49" fill="rgb(205,205,205)"/>
<circle cx="338.96" cy="433.36" r="0.62" fill="rgb(149,149,149)"/>
<circle cx="339.17" cy="432.24" r="0.69" fill="rgb(117,117,117)"/>
<circle cx="341.16" cy="431.61" r="0.59" fill="rgb(153,153,153)"/>
<circle cx="341.72" cy="434.81" r="0.39" fill="rgb(151,151,151)"/>
<circle cx="341.87" cy="434.75" r="0.62" fill="rgb(179,179,179)"/>
<circle cx="342.08" cy="432.07" r="0.42" fill="rgb(152,152,152)"/>
<circle cx="342.56" cy="434.44" r="0.46" fill="rgb(154,154,154)"/>
<circle cx="340.33" cy="432.11" r="0.58" fill="rgb(106,106,106)"/>
<circle cx="342.23" cy="434.53" r="0.47" fill="rgb(127,127,127)"/>
<circle cx="341.99" cy="433.49" r="0.49" fill="rgb(160,160,160)"/>
<circle cx="342.34" cy="434.70" r="0.67" fill="rgb(224,224,224)"/>
<circle cx="340.47" cy="433.71" r="0.50" fill="rgb(118,118,118)"/>
<circle cx="340.78" cy="433.50" r="0.50" fill="rgb(118,118,118)"/>
<circle cx="340.60" cy="433.73" r="0.50" fill="rgb(118,118,118)"/>
<circle cx="294.10" cy="476.30" r="3.04" fill="#202020"/>
<circle cx="293.27" cy="473.00" r="0.64" fill="rgb(222,222,222)"/>
<circle cx="297.13" cy="477.43" r="0.63" fill="rgb(158,158,158)"/>
<circle cx="295.45" cy="479.56" r="0.58" fill="rgb(129,129,129)"/>
<circle cx="292.95" cy="473.40" r="0.45" fill="rgb(175,175,175)"/>
<circle cx="292.10" cy="476.50" r="0.38" fill="rgb(145,145,145)"/>
<circle cx="292.21" cy="478.94" r="0.41" fill="rgb(185,185,185)"/>
<circle cx="292.43" cy="477.04" r="0.41" fill="rgb(149,149,149)"/>
<circle cx="294.02" cy="473.73" r="0.54" fill="rgb(137,137,137)"/>
<circle cx="292.04" cy="474.61" r="0.40" fill="rgb(135,135,135)"/>
<circle cx="294.73" cy="478.41" r="0.46" fill="rgb(158,158,158)"/>
<circle cx="295.77" cy="474.95" r="0.40" fill="rgb(167,167,167)"/>
<circle cx="295.77" cy="473.22" r="0.62" fill="rgb(168,168,168)"/>
<circle cx="296.75" cy="475.50" r="0.58" fill="rgb(122,122,122)"/>
<circle cx="294.28" cy="479.01" r="0.49" fill="rgb(159,159,159)"/>
<circle cx="292.46" cy="473.38" r="0.56" fill="rgb(142,142,142)"/>
<circle cx="293.78" cy="473.58" r="0.37" fill="rgb(137,137,137)"/>
<circle cx="296.38" cy="477.83" r="0.61" fill="rgb(143,143,143)"/>
<circle cx="290.99" cy="475.30" r="0.43" fill="rgb(116,116,116)"/>
<circle cx="295.63" cy="473.58" r="0.45" fill="rgb(167,167,167)"/>
<circle cx="294.76" cy="473.45" r="0.37" fill="rgb(165,165,165)"/>
<circle cx="293.89" cy="473.99" r="0.39" fill="rgb(166,166,166)"/>
<circle cx="292.83" cy="478.57" r="0.50" fill="rgb(132,132,132)"/>
<circle cx="292.20" cy="475.85" r="0.70" fill="rgb(149,149,149)"/>
<circle cx="291.82" cy="476.48" r="0.41" fill="rgb(159,159,159)"/>
<circle cx="292.70" cy="475.22" r="0.53" fill="rgb(175,175,175)"/>
<circle cx="293.23" cy="473.11" r="0.46" fill="rgb(188,188,188)"/>
<circle cx="294.18" cy="475.27" r="0.50" fill="rgb(114,114,114)"/>
<circle cx="294.42" cy="475.69" r="0.50" fill="rgb(114,114,114)"/>
<circle cx="294.10" cy="476.26" r="0.50" fill="rgb(114,114,114)"/>
<circle cx="343.60" cy="475.70" r="3.42" fill="#202020"/>
<circle cx="343.67" cy="478.87" r="0.52" fill="rgb(200,200,200)"/>
<circle cx="342.78" cy="477.81" r="0.70" fill="rgb(149,149,149)"/>
<circle cx="343.67" cy="473.21" r="0.67" fill="rgb(117,117,117)"/>
<circle cx="343.10" cy="478.28" r="0.42" fill="rgb(130,130,130)"/>
<circle cx="340.33" cy="473.63" r="0.48" fill="rgb(155,155,155)"/>
<circle cx="345.65" cy="476.77" r="0.52" fill="rgb(140,140,140)"/>
<circle cx="345.05" cy="477.78" r="0.65" fill="rgb(158,158,158)"/>
<circle cx="343.90" cy="478.92" r="0.49" fill="rgb(188,188,188)"/>
<circle cx="342.93" cy="478.20" r="0.61" fill="rgb(167,167,167)"/>
<circle cx="346.26" cy="473.47" r="0.45" fill="rgb(100,100,100)"/>
<circle cx="343.92" cy="478.83" r="0.67" fill="rgb(116,116,116)"/>
<circle cx="344.78" cy="471.90" r="0.59" fill="rgb(123,123,123)"/>
<circle cx="342.11" cy="472.40" r="0.66" fill="rgb(103,103,103)"/>
<circle cx="340.92" cy="475.49" r="0.48" fill="rgb(158,158,158)"/>
<circle cx="341.21" cy="473.66" r="0.61" fill="rgb(127,127,127)"/>
<circle cx="342.04" cy="472.12" r="0.69" fill="rgb(157,157,157)"/>
<circle cx="346.39" cy="475.94" r="0.57" fill="rgb(155,155,155)"/>
<circle cx="343.48" cy="478.47" r="0.65" fill="rgb(119,119,119)"/>
<circle cx="341.78" cy="472.38" r="0.65" fill="rgb(215,215,215)"/>
<circle cx="346.90" cy="473.77" r="0.68" fill="rgb(123,123,123)"/>
<circle cx="341.19" cy="477.15" r="0.69" fill="rgb(108,108,108)"/>
<circle cx="342.25" cy="473.18" r="0.38" fill="rgb(174,174,174)"/>
<circle cx="345.03" cy="477.26" r="0.49" fill="rgb(157,157,157)"/>
<circle cx="342.28" cy="479.40" r="0.40" fill="rgb(157,157,157)"/>
<circle cx="346.79" cy="477.80" r="0.54" fill="rgb(188,188,188)"/>
<circle cx="342.14" cy="478.08" r="0.45" fill="rgb(140,140,140)"/>
<circle cx="346.79" cy="478.08" r="0.40" fill="rgb(197,197,197)"/>
<circle cx="342.23" cy="474.10" r="0.60" fill="rgb(112,112,112)"/>
<circle cx="344.39" cy="476.07" r="0.50" fill="rgb(118,118,118)"/>
<circle cx="344.36" cy="476.89" r="0.50" fill="rgb(118,118,118)"/>
<circle cx="344.12" cy="475.38" r="0.50" fill="rgb(118,118,118)"/>
<circle cx="348.70" cy="493.90" r="4.37" fill="#202020"/>
<circle cx="351.88" cy="497.31" r="0.45" fill="rgb(160,160,160)"/>
<circle cx="349.61" cy="496.49" r="0.43" fill="rgb(118,118,118)"/>
<circle cx="350.12" cy="498.45" r="0.67" fill="rgb(146,146,146)"/>
<circle cx="351.13" cy="492.51" r="0.46" fill="rgb(157,157,157)"/>
<circle cx="352.24" cy="493.65" r="0.58" fill="rgb(107,107,107)"/>
<circle cx="352.86" cy="495.41" r="0.63" fill="rgb(105,105,105)"/>
<circle cx="345.45" cy="495.00" r="0.68" fill="rgb(123,123,123)"/>
<circle cx="350.05" cy="498.21" r="0.52" fill="rgb(60,60,60)"/>
<circle cx="353.76" cy="493.49" r="0.66" fill="rgb(74,74,74)"/>
<circle cx="351.45" cy="496.22" r="0.68" fill="rgb(145,145,145)"/>
<circle cx="349.05" cy="497.56" r="0.62" fill="rgb(119,119,119)"/>
<circle cx="350.39" cy="497.63" r="0.54" fill="rgb(118,118,118)"/>
<circle cx="353.24" cy="494.68" r="0.42" fill="rgb(153,153,153)"/>
<circle cx="345.83" cy="493.33" r="0.61" fill="rgb(82,82,82)"/>
<circle cx="345.04" cy="490.69" r="0.38" fill="rgb(154,154,154)"/>
<circle cx="352.48" cy="492.03" r="0.40" fill="rgb(156,156,156)"/>
<circle cx="348.44" cy="490.21" r="0.61" fill="rgb(96,96,96)"/>
<circle cx="345.42" cy="494.21" r="0.49" fill="rgb(169,169,169)"/>
<circle cx="346.40" cy="495.85" r="0.69" fill="rgb(157,157,157)"/>
<circle cx="345.59" cy="492.11" r="0.36" fill="rgb(172,172,172)"/>
<circle cx="351.65" cy="492.28" r="0.66" fill="rgb(125,125,125)"/>
<circle cx="350.79" cy="495.64" r="0.43" fill="rgb(184,184,184)"/>
<circle cx="352.58" cy="493.77" r="0.53" fill="rgb(173,173,173)"/>
<circle cx="350.83" cy="495.57" r="0.48" fill="rgb(165,165,165)"/>
<circle cx="352.28" cy="493.17" r="0.46" fill="rgb(168,168,168)"/>
<circle cx="352.01" cy="496.34" r="0.41" fill="rgb(137,137,137)"/>
<circle cx="352.66" cy="492.60" r="0.52" fill="rgb(180,180,180)"/>
<circle cx="346.48" cy="490.43" r="0.39" fill="rgb(144,144,144)"/>
<circle cx="344.54" cy="494.45" r="0.60" fill="rgb(191,191,191)"/>
<circle cx="349.68" cy="496.45" r="0.49" fill="rgb(170,170,170)"/>
<circle cx="345.82" cy="490.88" r="0.54" fill="rgb(168,168,168)"/>
<circle cx="350.50" cy="497.30" r="0.57" fill="rgb(166,166,166)"/>
<circle cx="348.34" cy="491.10" r="0.70" fill="rgb(181,181,181)"/>
<circle cx="347.17" cy="493.30" r="0.50" fill="rgb(106,106,106)"/>
<circle cx="348.49" cy="494.10" r="0.50" fill="rgb(106,106,106)"/>
<circle cx="348.44" cy="493.46" r="0.50" fill="rgb(106,106,106)"/>
<circle cx="360.80" cy="482.80" r="2.18" fill="#202020"/>
<circle cx="360.45" cy="484.63" r="0.53" fill="rgb(125,125,125)"/>
<circle cx="362.73" cy="482.26" r="0.53" fill="rgb(134,134,134)"/>
<circle cx="361.26" cy="481.00" r="0.41" fill="rgb(129,129,129)"/>
<circle cx="362.66" cy="481.25" r="0.54" fill="rgb(195,195,195)"/>
<circle cx="359.46" cy="482.66" r="0.61" fill="rgb(162,162,162)"/>
<circle cx="359.76" cy="481.80" r="0.60" fill="rgb(184,184,184)"/>
<circle cx="363.20" cy="482.64" r="0.50" fill="rgb(122,122,122)"/>
<circle cx="361.55" cy="483.88" r="0.69" fill="rgb(110,110,110)"/>
<circle cx="359.39" cy="483.87" r="0.67" fill="rgb(60,60,60)"/>
<circle cx="359.95" cy="480.67" r="0.53" fill="rgb(147,147,147)"/>
<circle cx="359.43" cy="480.94" r="0.51" fill="rgb(134,134,134)"/>
<circle cx="358.96" cy="481.70" r="0.68" fill="rgb(130,130,130)"/>
<circle cx="361.17" cy="481.02" r="0.61" fill="rgb(87,87,87)"/>
<circle cx="359.65" cy="484.17" r="0.56" fill="rgb(145,145,145)"/>
<circle cx="358.66" cy="482.87" r="0.55" fill="rgb(158,158,158)"/>
<circle cx="361.52" cy="485.02" r="0.59" fill="rgb(114,114,114)"/>
<circle cx="359.45" cy="481.75" r="0.44" fill="rgb(158,158,158)"/>
<circle cx="361.03" cy="480.79" r="0.65" fill="rgb(151,151,151)"/>
<circle cx="362.26" cy="482.11" r="0.50" fill="rgb(166,166,166)"/>
<circle cx="361.71" cy="481.19" r="0.43" fill="rgb(178,178,178)"/>
<circle cx="362.90" cy="482.03" r="0.68" fill="rgb(152,152,152)"/>
<circle cx="360.84" cy="482.76" r="0.50" fill="rgb(106,106,106)"/>
<circle cx="360.83" cy="482.82" r="0.50" fill="rgb(106,106,106)"/>
<circle cx="360.78" cy="482.34" r="0.50" fill="rgb(106,106,106)"/>
<circle cx="327.50" cy="436.30" r="2.00" fill="#f4f4f4"/>
<circle cx="372.80" cy="425.00" r="1.50" fill="#eeeeee"/>
<circle cx="339.10" cy="421.60" r="1.40" fill="#cccccc"/>
<circle cx="315.00" cy="421.50" r="1.00" fill="#bbbbbb"/>
<circle cx="364.60" cy="426.90" r="1.10" fill="#aaaaaa"/>
<circle cx="288.80" cy="426.50" r="1.60" fill="#bbbbbb"/>
<rect x="1.5" y="1.5" width="517" height="547" fill="none" stroke="#dadada" stroke-width="1"/>
<rect x="0.5" y="0.5" width="519" height="549" fill="none" stroke="#626262" stroke-width="1"/>
</svg>
</body></html>
